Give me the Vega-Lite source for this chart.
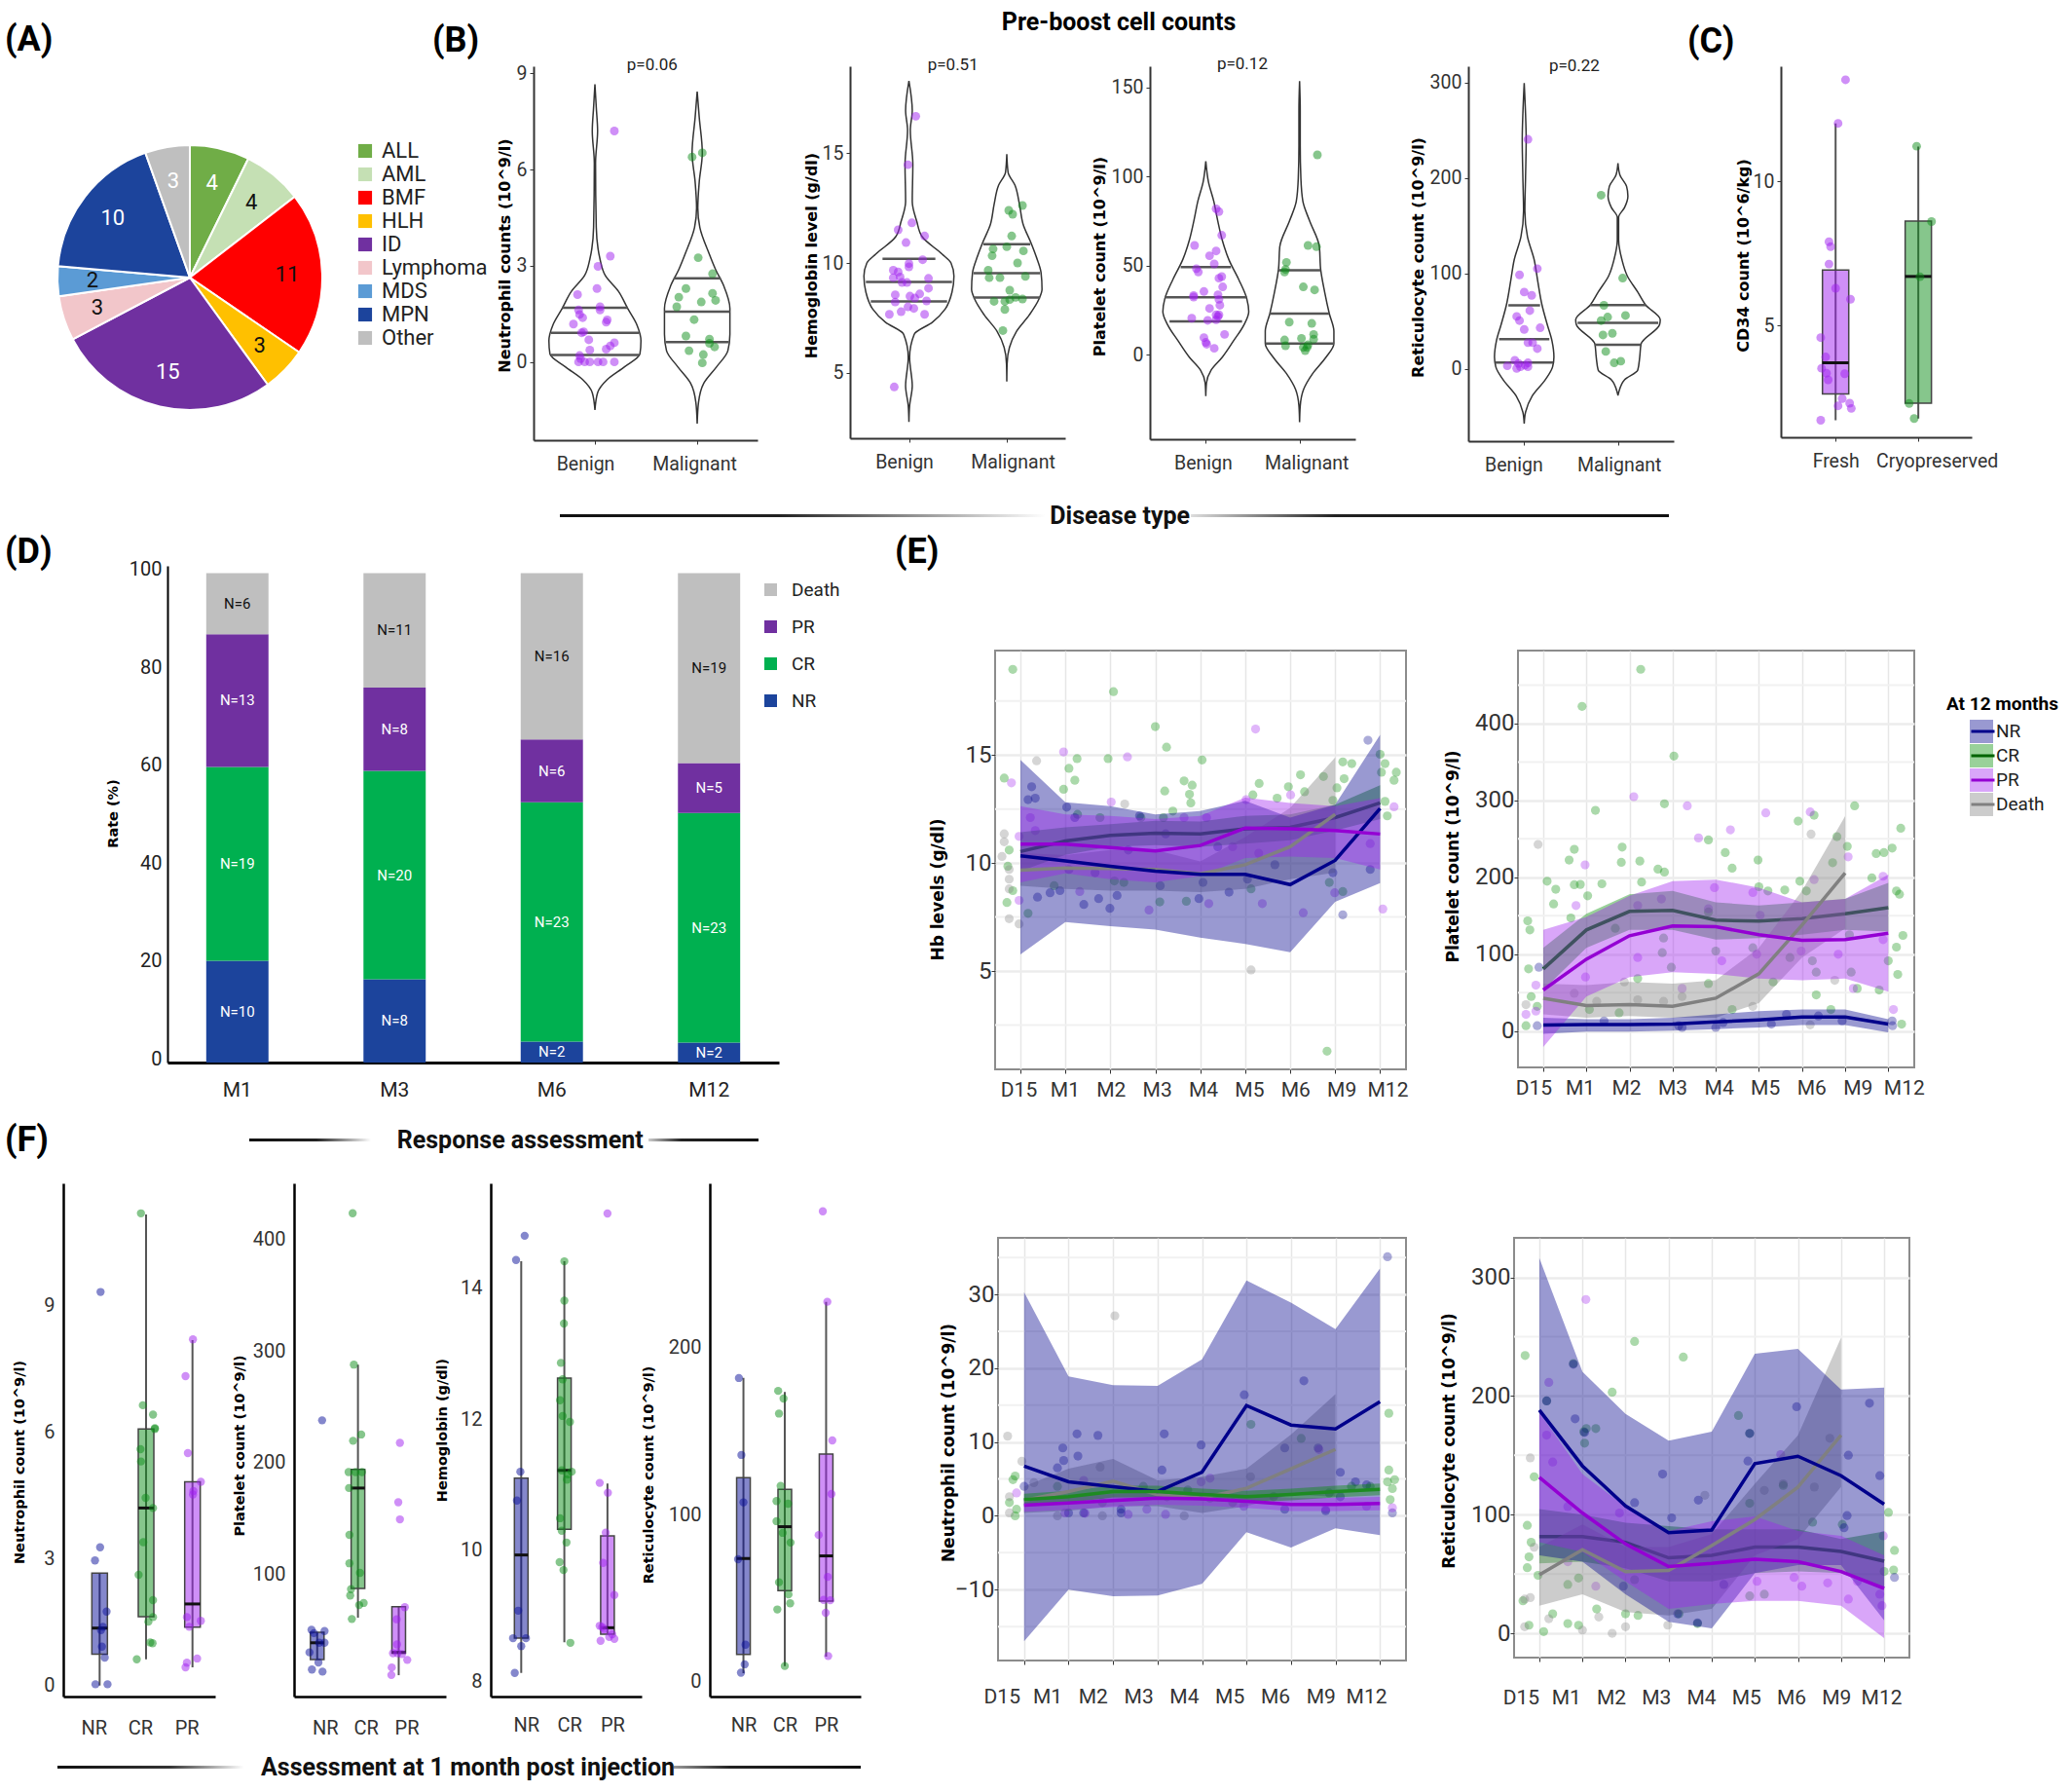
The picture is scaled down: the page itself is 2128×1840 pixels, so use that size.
{
"$schema":"https://vega.github.io/schema/vega-lite/v6.json",
"background":"white","padding":0,
"config":{"view":{"stroke":null},
"title":{"font":"Roboto","fontSize":36,"fontWeight":"bold","anchor":"start","frame":"group","offset":0,"baseline":"alphabetic","color":"#000"},
"axis":{"grid":false,"labelFont":"Roboto","labelFontSize":19.5,"labelColor":"#333","labelPadding":3,"tickSize":4,"tickColor":"#333","domainColor":"#333","domainWidth":2,"titleFont":"DejaVu Sans","titleFontWeight":"bold","titleFontSize":16,"titleColor":"#000","labelOverlap":false,"labelFlush":false}},
"resolve":{"scale":{"color":"independent","fill":"independent","stroke":"independent"}},
"vconcat":[
{"width":2128,"height":46,"data":{"values":[{"label":"Pre-boost cell counts"}]},"mark":{"type":"text","font":"Roboto","fontWeight":"bold","fontSize":25,"color":"#000"},"encoding":{"x":{"datum":0.54,"type":"quantitative","scale":{"domain":[0,1]},"axis":null},"text":{"field":"label"}}},
{"width":1,"height":22,"data":{"values":[]},"mark":"point"},
{"hconcat":[
{"width":390,"height":434,"title":{"text":"(A)","dx":5,"dy":-4},
"data":{"values":[{"d":"ALL","n":4,"i":1},{"d":"AML","n":4,"i":2},{"d":"BMF","n":11,"i":3},{"d":"HLH","n":3,"i":4},{"d":"ID","n":15,"i":5},{"d":"Lymphoma","n":3,"i":6},{"d":"MDS","n":2,"i":7},{"d":"MPN","n":10,"i":8},{"d":"Other","n":3,"i":9}]},
"encoding":{"theta":{"field":"n","type":"quantitative","stack":true},"order":{"field":"i","type":"quantitative"}},
"layer":[
{"mark":{"type":"arc","outerRadius":136,"stroke":"white","strokeWidth":2},"encoding":{"color":{"field":"d","type":"nominal","scale":{"domain":["ALL","AML","BMF","HLH","ID","Lymphoma","MDS","MPN","Other"],"range":["#70AD47","#C5E0B4","#FF0000","#FFC000","#7030A0","#F2C6CA","#5B9BD5","#1C449C","#BFBFBF"]},"legend":{"title":null,"orient":"none","legendX":364,"legendY":76,"symbolType":"square","symbolSize":200,"symbolStrokeWidth":0,"labelFont":"Roboto","labelFontSize":22,"labelColor":"#222","rowPadding":2,"labelOffset":6}}}},
{"mark":{"type":"text","radius":100,"font":"Roboto","fontSize":22},"encoding":{"detail":{"field":"d"},"text":{"field":"n","type":"quantitative"},"color":{"condition":{"test":"indexof(['ALL','ID','MPN','Other'],datum.d)>=0","value":"white"},"value":"#111"}}}
]},
{"width":158,"height":1,"data":{"values":[]},"mark":"point"},
{"width":230,"height":384,"title":{"text":"(B)","dx":-104,"dy":7},
"encoding":{"x":{"field":"x","type":"quantitative","scale":{"domain":[-0.6,1.59]},"axis":{"values":[0,1],"labelExpr":"datum.value==0?'Benign':'Malignant'","title":null,"labelPadding":11,"encoding":{"labels":{"dx":{"value":{"expr":"datum.value==0?-10:-3"}}}}}},
"y":{"field":"y","type":"quantitative","scale":{"domain":[-2.44,9.22]},"axis":{"values":[0,3,6,9],"title":"Neutrophil counts (10^9/l)","titleX":-22,"titleY":194}}},
"layer":[
{"data":{"values":[{"g":"B","y":8.66,"x":0,"x2":0},{"g":"B","y":7.94,"x":-0.013,"x2":0.013},{"g":"B","y":7.2,"x":-0.026,"x2":0.026},{"g":"B","y":6.2,"x":-0.006,"x2":0.006},{"g":"B","y":4.2,"x":-0.013,"x2":0.013},{"g":"B","y":3.2,"x":-0.05,"x2":0.05},{"g":"B","y":2.7,"x":-0.1,"x2":0.1},{"g":"B","y":2.2,"x":-0.23,"x2":0.23},{"g":"B","y":1.67,"x":-0.32,"x2":0.32},{"g":"B","y":1.16,"x":-0.41,"x2":0.41},{"g":"B","y":0.66,"x":-0.45,"x2":0.45},{"g":"B","y":0.25,"x":-0.44,"x2":0.44},{"g":"B","y":-0.15,"x":-0.29,"x2":0.29},{"g":"B","y":-0.55,"x":-0.12,"x2":0.12},{"g":"B","y":-0.96,"x":-0.026,"x2":0.026},{"g":"B","y":-1.5,"x":0,"x2":0},
{"g":"M","y":8.43,"x":1,"x2":1},{"g":"M","y":7.63,"x":0.98,"x2":1.02},{"g":"M","y":6.52,"x":0.95,"x2":1.05},{"g":"M","y":5.61,"x":0.98,"x2":1.02},{"g":"M","y":4.8,"x":0.994,"x2":1.006},{"g":"M","y":4.19,"x":0.974,"x2":1.026},{"g":"M","y":3.38,"x":0.884,"x2":1.116},{"g":"M","y":2.88,"x":0.82,"x2":1.18},{"g":"M","y":2.37,"x":0.74,"x2":1.26},{"g":"M","y":1.67,"x":0.68,"x2":1.32},{"g":"M","y":0.86,"x":0.68,"x2":1.32},{"g":"M","y":0.35,"x":0.7,"x2":1.3},{"g":"M","y":-0.15,"x":0.81,"x2":1.19},{"g":"M","y":-0.66,"x":0.935,"x2":1.065},{"g":"M","y":-1.26,"x":0.987,"x2":1.013},{"g":"M","y":-1.92,"x":1,"x2":1}]},
"mark":{"type":"area","orient":"horizontal","interpolate":"monotone","fill":"transparent","stroke":"#333","strokeWidth":1.5},"encoding":{"x2":{"field":"x2"},"detail":{"field":"g"}}},
{"data":{"values":[{"y":1.69,"x":-0.32,"x2":0.32},{"y":0.91,"x":-0.43,"x2":0.43},{"y":0.22,"x":-0.43,"x2":0.43},{"y":2.61,"x":0.77,"x2":1.23},{"y":1.57,"x":0.68,"x2":1.32},{"y":0.62,"x":0.69,"x2":1.31}]},"mark":{"type":"rule","stroke":"#555","strokeWidth":2.5},"encoding":{"x2":{"field":"x2"}}},
{"data":{"values":[{"x":0.19,"y":7.2,"g":"Benign"},{"x":0.15,"y":3.3,"g":"Benign"},{"x":0.03,"y":2.98,"g":"Benign"},{"x":0.02,"y":2.29,"g":"Benign"},{"x":-0.17,"y":2.1,"g":"Benign"},{"x":0.05,"y":1.72,"g":"Benign"},{"x":-0.16,"y":1.62,"g":"Benign"},{"x":-0.15,"y":1.48,"g":"Benign"},{"x":-0.12,"y":1.38,"g":"Benign"},{"x":-0.21,"y":1.18,"g":"Benign"},{"x":0.12,"y":1.31,"g":"Benign"},{"x":0.11,"y":1.24,"g":"Benign"},{"x":-0.13,"y":0.91,"g":"Benign"},{"x":-0.11,"y":0.94,"g":"Benign"},{"x":-0.06,"y":0.69,"g":"Benign"},{"x":0.19,"y":0.6,"g":"Benign"},{"x":0.15,"y":0.5,"g":"Benign"},{"x":0.11,"y":0.4,"g":"Benign"},{"x":-0.05,"y":0.37,"g":"Benign"},{"x":-0.15,"y":0.2,"g":"Benign"},{"x":-0.16,"y":0,"g":"Benign"},{"x":-0.1,"y":0,"g":"Benign"},{"x":-0.05,"y":0,"g":"Benign"},{"x":0.03,"y":0,"g":"Benign"},{"x":0.08,"y":0,"g":"Benign"},{"x":0.19,"y":0,"g":"Benign"},{"x":0.05,"y":1.62,"g":"Benign"},{"x":-0.14,"y":0.1,"g":"Benign"},
{"x":1.05,"y":6.52,"g":"Malignant"},{"x":0.95,"y":6.39,"g":"Malignant"},{"x":1.01,"y":3.25,"g":"Malignant"},{"x":1.15,"y":2.75,"g":"Malignant"},{"x":0.89,"y":2.29,"g":"Malignant"},{"x":0.82,"y":2.02,"g":"Malignant"},{"x":1.15,"y":2.14,"g":"Malignant"},{"x":1.18,"y":1.92,"g":"Malignant"},{"x":1.04,"y":1.87,"g":"Malignant"},{"x":0.8,"y":1.72,"g":"Malignant"},{"x":0.97,"y":1.32,"g":"Malignant"},{"x":0.89,"y":0.81,"g":"Malignant"},{"x":1.12,"y":0.71,"g":"Malignant"},{"x":1.12,"y":0.58,"g":"Malignant"},{"x":1.17,"y":0.47,"g":"Malignant"},{"x":0.92,"y":0.35,"g":"Malignant"},{"x":1.06,"y":0.23,"g":"Malignant"},{"x":1.05,"y":-0.03,"g":"Malignant"}]},
"mark":{"type":"circle","size":80,"opacity":0.5},"encoding":{"color":{"field":"g","type":"nominal","scale":{"domain":["Benign","Malignant"],"range":["#A020F0","#0D8D19"]},"legend":null}}},
{"data":{"values":[{"x":0.56,"y":9.24,"p":"p=0.06"}]},"mark":{"type":"text","font":"Roboto","fontSize":17,"color":"#222"},"encoding":{"text":{"field":"p"}}}
]},
{"width":95,"height":1,"data":{"values":[]},"mark":"point"},
{"width":221,"height":382,
"encoding":{"x":{"field":"x","type":"quantitative","scale":{"domain":[-0.602,1.597]},"axis":{"values":[0,1],"labelExpr":"datum.value==0?'Benign':'Malignant'","title":null,"labelPadding":11,"encoding":{"labels":{"dx":{"value":{"expr":"datum.value==0?-5:6"}}}}}},
"y":{"field":"y","type":"quantitative","scale":{"domain":[2.01,18.97]},"axis":{"values":[5,10,15],"title":"Hemoglobin level (g/dl)","titleX":-32,"titleY":194}}},
"layer":[
{"data":{"values":[{"g":"B","y":18.3,"x":0,"x2":0},{"g":"B","y":16.95,"x":-0.034,"x2":0.034},{"g":"B","y":16.05,"x":-0.014,"x2":0.014},{"g":"B","y":14.5,"x":-0.04,"x2":0.04},{"g":"B","y":12.8,"x":-0.034,"x2":0.034},{"g":"B","y":11.9,"x":-0.08,"x2":0.08},{"g":"B","y":11.2,"x":-0.135,"x2":0.135},{"g":"B","y":10.4,"x":-0.34,"x2":0.34},{"g":"B","y":10,"x":-0.43,"x2":0.43},{"g":"B","y":9.4,"x":-0.46,"x2":0.46},{"g":"B","y":8.67,"x":-0.44,"x2":0.44},{"g":"B","y":7.9,"x":-0.37,"x2":0.37},{"g":"B","y":7.3,"x":-0.24,"x2":0.24},{"g":"B","y":6.75,"x":-0.054,"x2":0.054},{"g":"B","y":5.7,"x":-0.007,"x2":0.007},{"g":"B","y":4.4,"x":-0.034,"x2":0.034},{"g":"B","y":3.5,"x":-0.007,"x2":0.007},{"g":"B","y":2.75,"x":0,"x2":0},
{"g":"M","y":14.96,"x":1,"x2":1},{"g":"M","y":14.14,"x":0.987,"x2":1.013},{"g":"M","y":13.55,"x":0.917,"x2":1.083},{"g":"M","y":12.66,"x":0.87,"x2":1.13},{"g":"M","y":11.78,"x":0.834,"x2":1.166},{"g":"M","y":10.89,"x":0.75,"x2":1.25},{"g":"M","y":10.3,"x":0.7,"x2":1.3},{"g":"M","y":9.56,"x":0.65,"x2":1.35},{"g":"M","y":8.8,"x":0.64,"x2":1.36},{"g":"M","y":8.37,"x":0.67,"x2":1.33},{"g":"M","y":7.63,"x":0.77,"x2":1.23},{"g":"M","y":6.89,"x":0.9,"x2":1.1},{"g":"M","y":6.15,"x":0.973,"x2":1.027},{"g":"M","y":5.4,"x":0.997,"x2":1.003},{"g":"M","y":4.6,"x":1,"x2":1}]},
"mark":{"type":"area","orient":"horizontal","interpolate":"monotone","fill":"transparent","stroke":"#333","strokeWidth":1.5},"encoding":{"x2":{"field":"x2"},"detail":{"field":"g"}}},
{"data":{"values":[{"y":10.19,"x":-0.27,"x2":0.27},{"y":9.14,"x":-0.44,"x2":0.44},{"y":8.25,"x":-0.39,"x2":0.39},{"y":10.86,"x":0.76,"x2":1.24},{"y":9.54,"x":0.66,"x2":1.34},{"y":8.42,"x":0.66,"x2":1.34}]},"mark":{"type":"rule","stroke":"#555","strokeWidth":2.5},"encoding":{"x2":{"field":"x2"}}},
{"data":{"values":[{"x":0.07,"y":16.69,"g":"Benign"},{"x":-0.01,"y":14.48,"g":"Benign"},{"x":0.03,"y":11.83,"g":"Benign"},{"x":-0.11,"y":11.51,"g":"Benign"},{"x":0.16,"y":11.23,"g":"Benign"},{"x":-0.03,"y":10.93,"g":"Benign"},{"x":0.14,"y":10.15,"g":"Benign"},{"x":0,"y":9.97,"g":"Benign"},{"x":0,"y":9.82,"g":"Benign"},{"x":-0.16,"y":9.67,"g":"Benign"},{"x":-0.11,"y":9.59,"g":"Benign"},{"x":-0.16,"y":9.33,"g":"Benign"},{"x":-0.09,"y":9.36,"g":"Benign"},{"x":0.2,"y":9.3,"g":"Benign"},{"x":-0.07,"y":9.11,"g":"Benign"},{"x":-0.02,"y":9.11,"g":"Benign"},{"x":0.2,"y":8.85,"g":"Benign"},{"x":-0.14,"y":8.55,"g":"Benign"},{"x":0.11,"y":8.59,"g":"Benign"},{"x":0.01,"y":8.49,"g":"Benign"},{"x":0.06,"y":8.4,"g":"Benign"},{"x":-0.14,"y":8.22,"g":"Benign"},{"x":0.18,"y":8.27,"g":"Benign"},{"x":-0.01,"y":8,"g":"Benign"},{"x":0.05,"y":7.93,"g":"Benign"},{"x":-0.08,"y":7.78,"g":"Benign"},{"x":-0.2,"y":7.66,"g":"Benign"},{"x":0.16,"y":7.66,"g":"Benign"},{"x":-0.15,"y":4.35,"g":"Benign"},
{"x":1.16,"y":12.62,"g":"Malignant"},{"x":1.02,"y":12.4,"g":"Malignant"},{"x":1.06,"y":12.22,"g":"Malignant"},{"x":1.05,"y":11.23,"g":"Malignant"},{"x":0.86,"y":10.64,"g":"Malignant"},{"x":1,"y":10.74,"g":"Malignant"},{"x":1.17,"y":10.55,"g":"Malignant"},{"x":0.85,"y":10.33,"g":"Malignant"},{"x":1.11,"y":10,"g":"Malignant"},{"x":0.81,"y":9.67,"g":"Malignant"},{"x":1.19,"y":9.39,"g":"Malignant"},{"x":0.82,"y":9.33,"g":"Malignant"},{"x":0.93,"y":9.33,"g":"Malignant"},{"x":1.03,"y":8.76,"g":"Malignant"},{"x":0.87,"y":8.25,"g":"Malignant"},{"x":0.98,"y":8.25,"g":"Malignant"},{"x":1.03,"y":8.33,"g":"Malignant"},{"x":1.09,"y":8.43,"g":"Malignant"},{"x":1.16,"y":8.36,"g":"Malignant"},{"x":0.98,"y":7.88,"g":"Malignant"},{"x":0.96,"y":6.92,"g":"Malignant"}]},
"mark":{"type":"circle","size":80,"opacity":0.5},"encoding":{"color":{"field":"g","type":"nominal","scale":{"domain":["Benign","Malignant"],"range":["#A020F0","#0D8D19"]},"legend":null}}},
{"data":{"values":[{"x":0.45,"y":19.02,"p":"p=0.51"}]},"mark":{"type":"text","font":"Roboto","fontSize":17,"color":"#222"},"encoding":{"text":{"field":"p"}}}
]},
{"width":87,"height":1,"data":{"values":[]},"mark":"point"},
{"width":211,"height":383,
"encoding":{"x":{"field":"x","type":"quantitative","scale":{"domain":[-0.596,1.595]},"axis":{"values":[0,1],"labelExpr":"datum.value==0?'Benign':'Malignant'","title":null,"labelPadding":11,"encoding":{"labels":{"dx":{"value":{"expr":"datum.value==0?-3:7"}}}}}},
"y":{"field":"y","type":"quantitative","scale":{"domain":[-47.6,162]},"axis":{"values":[0,50,100,150],"title":"Platelet count (10^9/l)","titleX":-44,"titleY":195}}},
"layer":[
{"data":{"values":[{"g":"B","y":108.6,"x":0,"x2":0},{"g":"B","y":97.1,"x":-0.028,"x2":0.028},{"g":"B","y":86.1,"x":-0.085,"x2":0.085},{"g":"B","y":75.2,"x":-0.127,"x2":0.127},{"g":"B","y":64.2,"x":-0.176,"x2":0.176},{"g":"B","y":53.3,"x":-0.246,"x2":0.246},{"g":"B","y":42.3,"x":-0.35,"x2":0.35},{"g":"B","y":31.4,"x":-0.437,"x2":0.437},{"g":"B","y":24.1,"x":-0.458,"x2":0.458},{"g":"B","y":16.8,"x":-0.408,"x2":0.408},{"g":"B","y":7.7,"x":-0.296,"x2":0.296},{"g":"B","y":-1.5,"x":-0.176,"x2":0.176},{"g":"B","y":-8.8,"x":-0.056,"x2":0.056},{"g":"B","y":-16,"x":-0.007,"x2":0.007},{"g":"B","y":-23.4,"x":0,"x2":0},
{"g":"M","y":153.6,"x":1,"x2":1},{"g":"M","y":137.2,"x":0.993,"x2":1.007},{"g":"M","y":117.2,"x":0.993,"x2":1.007},{"g":"M","y":98.9,"x":0.986,"x2":1.014},{"g":"M","y":86.1,"x":0.965,"x2":1.035},{"g":"M","y":75.2,"x":0.894,"x2":1.106},{"g":"M","y":60.6,"x":0.789,"x2":1.211},{"g":"M","y":47.8,"x":0.775,"x2":1.225},{"g":"M","y":35,"x":0.732,"x2":1.268},{"g":"M","y":23,"x":0.683,"x2":1.317},{"g":"M","y":13.1,"x":0.634,"x2":1.366},{"g":"M","y":6.2,"x":0.634,"x2":1.366},{"g":"M","y":-1.5,"x":0.718,"x2":1.282},{"g":"M","y":-10.6,"x":0.859,"x2":1.141},{"g":"M","y":-19.7,"x":0.958,"x2":1.042},{"g":"M","y":-28.8,"x":0.993,"x2":1.007},{"g":"M","y":-38,"x":1,"x2":1}]},
"mark":{"type":"area","orient":"horizontal","interpolate":"monotone","fill":"transparent","stroke":"#333","strokeWidth":1.5},"encoding":{"x2":{"field":"x2"},"detail":{"field":"g"}}},
{"data":{"values":[{"y":49.1,"x":-0.268,"x2":0.268},{"y":32.1,"x":-0.437,"x2":0.437},{"y":18.6,"x":-0.387,"x2":0.387},{"y":47.4,"x":0.775,"x2":1.225},{"y":23,"x":0.683,"x2":1.317},{"y":6.2,"x":0.634,"x2":1.366}]},"mark":{"type":"rule","stroke":"#555","strokeWidth":2.5},"encoding":{"x2":{"field":"x2"}}},
{"data":{"values":[{"x":0.11,"y":81.9,"g":"Benign"},{"x":0.14,"y":80.3,"g":"Benign"},{"x":0.17,"y":67,"g":"Benign"},{"x":-0.12,"y":61.3,"g":"Benign"},{"x":0.11,"y":58.2,"g":"Benign"},{"x":0.04,"y":55.5,"g":"Benign"},{"x":0.09,"y":50.9,"g":"Benign"},{"x":-0.1,"y":48.2,"g":"Benign"},{"x":-0.08,"y":46.4,"g":"Benign"},{"x":0.17,"y":43.8,"g":"Benign"},{"x":0.14,"y":42.9,"g":"Benign"},{"x":0.18,"y":38,"g":"Benign"},{"x":-0.02,"y":35.4,"g":"Benign"},{"x":0.13,"y":33.6,"g":"Benign"},{"x":-0.13,"y":33.2,"g":"Benign"},{"x":-0.13,"y":32.3,"g":"Benign"},{"x":0.14,"y":31,"g":"Benign"},{"x":0.15,"y":27.7,"g":"Benign"},{"x":0.04,"y":25.9,"g":"Benign"},{"x":0.11,"y":22.3,"g":"Benign"},{"x":0.14,"y":22.3,"g":"Benign"},{"x":0.13,"y":21.4,"g":"Benign"},{"x":-0.15,"y":20.4,"g":"Benign"},{"x":0.02,"y":19.2,"g":"Benign"},{"x":0.11,"y":19.5,"g":"Benign"},{"x":0.2,"y":11.3,"g":"Benign"},{"x":-0.02,"y":9.5,"g":"Benign"},{"x":0,"y":6.8,"g":"Benign"},{"x":0.01,"y":5.8,"g":"Benign"},{"x":0.09,"y":3.5,"g":"Benign"},
{"x":1.19,"y":112.2,"g":"Malignant"},{"x":1.09,"y":61.3,"g":"Malignant"},{"x":1.18,"y":60.6,"g":"Malignant"},{"x":0.86,"y":51.8,"g":"Malignant"},{"x":0.85,"y":47.8,"g":"Malignant"},{"x":0.84,"y":46.4,"g":"Malignant"},{"x":1.04,"y":38,"g":"Malignant"},{"x":1.16,"y":36.3,"g":"Malignant"},{"x":0.89,"y":18.2,"g":"Malignant"},{"x":1.13,"y":17.5,"g":"Malignant"},{"x":0.84,"y":8.2,"g":"Malignant"},{"x":0.85,"y":4.9,"g":"Malignant"},{"x":1.02,"y":9.1,"g":"Malignant"},{"x":1.15,"y":11.3,"g":"Malignant"},{"x":1.15,"y":8.6,"g":"Malignant"},{"x":1.04,"y":4,"g":"Malignant"},{"x":1.08,"y":4,"g":"Malignant"},{"x":1.06,"y":2.2,"g":"Malignant"},{"x":1.09,"y":5.5,"g":"Malignant"}]},
"mark":{"type":"circle","size":80,"opacity":0.5},"encoding":{"color":{"field":"g","type":"nominal","scale":{"domain":["Benign","Malignant"],"range":["#A020F0","#0D8D19"]},"legend":null}}},
{"data":{"values":[{"x":0.39,"y":163,"p":"p=0.12"}]},"mark":{"type":"text","font":"Roboto","fontSize":17,"color":"#222"},"encoding":{"text":{"field":"p"}}}
]},
{"width":116,"height":1,"data":{"values":[]},"mark":"point"},
{"width":211,"height":385,
"encoding":{"x":{"field":"x","type":"quantitative","scale":{"domain":[-0.596,1.595]},"axis":{"values":[0,1],"labelExpr":"datum.value==0?'Benign':'Malignant'","title":null,"labelPadding":11,"encoding":{"labels":{"dx":{"value":{"expr":"datum.value==0?-11:1"}}}}}},
"y":{"field":"y","type":"quantitative","scale":{"domain":[-75.5,317]},"axis":{"values":[0,100,200,300],"title":"Reticulocyte count (10^9/l)","titleX":-44,"titleY":196}}},
"layer":[
{"data":{"values":[{"g":"B","y":299.3,"x":0,"x2":0},{"g":"B","y":267.7,"x":-0.014,"x2":0.014},{"g":"B","y":240.5,"x":-0.021,"x2":0.021},{"g":"B","y":199.7,"x":-0.014,"x2":0.014},{"g":"B","y":165.6,"x":-0.007,"x2":0.007},{"g":"B","y":138.4,"x":-0.035,"x2":0.035},{"g":"B","y":114.6,"x":-0.106,"x2":0.106},{"g":"B","y":94.2,"x":-0.141,"x2":0.141},{"g":"B","y":67,"x":-0.19,"x2":0.19},{"g":"B","y":46.6,"x":-0.246,"x2":0.246},{"g":"B","y":29.6,"x":-0.296,"x2":0.296},{"g":"B","y":12.6,"x":-0.317,"x2":0.317},{"g":"B","y":2.4,"x":-0.303,"x2":0.303},{"g":"B","y":-11.2,"x":-0.225,"x2":0.225},{"g":"B","y":-28.2,"x":-0.085,"x2":0.085},{"g":"B","y":-45.2,"x":-0.014,"x2":0.014},{"g":"B","y":-57.1,"x":0,"x2":0},
{"g":"M","y":215.6,"x":1,"x2":1},{"g":"M","y":203.1,"x":0.979,"x2":1.021},{"g":"M","y":191.2,"x":0.908,"x2":1.092},{"g":"M","y":181,"x":0.894,"x2":1.106},{"g":"M","y":169,"x":0.93,"x2":1.07},{"g":"M","y":158.8,"x":0.993,"x2":1.007},{"g":"M","y":135,"x":0.993,"x2":1.007},{"g":"M","y":114.6,"x":0.958,"x2":1.042},{"g":"M","y":97.6,"x":0.901,"x2":1.099},{"g":"M","y":80.6,"x":0.789,"x2":1.211},{"g":"M","y":67,"x":0.704,"x2":1.296},{"g":"M","y":51.7,"x":0.549,"x2":1.451},{"g":"M","y":46.6,"x":0.556,"x2":1.444},{"g":"M","y":26.2,"x":0.754,"x2":1.246},{"g":"M","y":12.6,"x":0.768,"x2":1.232},{"g":"M","y":-1,"x":0.789,"x2":1.211},{"g":"M","y":-11.2,"x":0.93,"x2":1.07},{"g":"M","y":-24.8,"x":0.993,"x2":1.007},{"g":"M","y":-27.6,"x":1,"x2":1}]},
"mark":{"type":"area","orient":"horizontal","interpolate":"monotone","fill":"transparent","stroke":"#333","strokeWidth":1.5},"encoding":{"x2":{"field":"x2"},"detail":{"field":"g"}}},
{"data":{"values":[{"y":66.7,"x":-0.169,"x2":0.169},{"y":31.3,"x":-0.268,"x2":0.268},{"y":6.8,"x":-0.31,"x2":0.31},{"y":67,"x":0.704,"x2":1.296},{"y":48.3,"x":0.57,"x2":1.43},{"y":25.5,"x":0.754,"x2":1.246}]},"mark":{"type":"rule","stroke":"#555","strokeWidth":2.5},"encoding":{"x2":{"field":"x2"}}},
{"data":{"values":[{"x":0.04,"y":240.5,"g":"Benign"},{"x":0.14,"y":105.1,"g":"Benign"},{"x":-0.05,"y":98.6,"g":"Benign"},{"x":0,"y":80.6,"g":"Benign"},{"x":0.08,"y":77.2,"g":"Benign"},{"x":0.06,"y":61.2,"g":"Benign"},{"x":-0.08,"y":55.1,"g":"Benign"},{"x":-0.05,"y":50.7,"g":"Benign"},{"x":0.17,"y":43.2,"g":"Benign"},{"x":0,"y":41.5,"g":"Benign"},{"x":0.04,"y":27.6,"g":"Benign"},{"x":0.09,"y":27.6,"g":"Benign"},{"x":0.14,"y":21.4,"g":"Benign"},{"x":-0.18,"y":3.4,"g":"Benign"},{"x":-0.1,"y":9.2,"g":"Benign"},{"x":-0.06,"y":5.8,"g":"Benign"},{"x":0.01,"y":4.1,"g":"Benign"},{"x":0.04,"y":6.5,"g":"Benign"},{"x":-0.08,"y":0.7,"g":"Benign"},{"x":0.04,"y":2.4,"g":"Benign"},{"x":-0.04,"y":2.4,"g":"Benign"},
{"x":0.82,"y":182,"g":"Malignant"},{"x":1.05,"y":95.2,"g":"Malignant"},{"x":0.85,"y":66.7,"g":"Malignant"},{"x":1.08,"y":56.1,"g":"Malignant"},{"x":0.89,"y":54.4,"g":"Malignant"},{"x":0.82,"y":50.7,"g":"Malignant"},{"x":0.94,"y":37.4,"g":"Malignant"},{"x":0.84,"y":35.7,"g":"Malignant"},{"x":0.87,"y":18.4,"g":"Malignant"},{"x":0.96,"y":6.5,"g":"Malignant"},{"x":1.03,"y":8.2,"g":"Malignant"}]},
"mark":{"type":"circle","size":80,"opacity":0.5},"encoding":{"color":{"field":"g","type":"nominal","scale":{"domain":["Benign","Malignant"],"range":["#A020F0","#0D8D19"]},"legend":null}}},
{"data":{"values":[{"x":0.535,"y":317,"p":"p=0.22"}]},"mark":{"type":"text","font":"Roboto","fontSize":17,"color":"#222"},"encoding":{"text":{"field":"p"}}}
]},
{"width":110,"height":1,"data":{"values":[]},"mark":"point"},
{"width":196,"height":381,"title":{"text":"(C)","dx":-96,"dy":-2},
"data":{"values":[{"g":"Fresh","x":0,"low":1.72,"q1":2.63,"med":3.71,"q3":6.92,"high":12},{"g":"Cryopreserved","x":1,"low":1.78,"q1":2.31,"med":6.7,"q3":8.62,"high":11.2}]},
"encoding":{"x":{"field":"x","type":"quantitative","scale":{"domain":[-0.603,1.587]},"axis":{"values":[0,1],"labelExpr":"datum.value==0?'Fresh':'Cryopreserved'","title":null,"labelPadding":11,"encoding":{"labels":{"dx":{"value":{"expr":"datum.value==1?19:0"}}}}}},
"y":{"field":"y","type":"quantitative","scale":{"domain":[1.13,13.98]},"axis":{"values":[5,10],"title":"CD34 count (10^6/kg)","titleX":-31,"titleY":194}}},
"layer":[
{"mark":{"type":"rule","stroke":"#555","strokeWidth":2},"encoding":{"y":{"field":"low"},"y2":{"field":"high"}}},
{"mark":{"type":"bar","size":27,"fillOpacity":0.5,"stroke":"#444","strokeWidth":1.5},"encoding":{"y":{"field":"q1"},"y2":{"field":"q3"},"color":{"field":"g","type":"nominal","scale":{"domain":["Fresh","Cryopreserved"],"range":["#A020F0","#0D8D19"]},"legend":null}}},
{"mark":{"type":"tick","orient":"horizontal","size":27,"thickness":3,"color":"#111","opacity":1},"encoding":{"y":{"field":"med"}}},
{"data":{"values":[{"x":0.12,"y":13.51,"g":"Fresh"},{"x":0.03,"y":12,"g":"Fresh"},{"x":-0.08,"y":7.9,"g":"Fresh"},{"x":-0.06,"y":7.73,"g":"Fresh"},{"x":-0.08,"y":7.13,"g":"Fresh"},{"x":0,"y":6.29,"g":"Fresh"},{"x":0.18,"y":5.91,"g":"Fresh"},{"x":-0.18,"y":4.58,"g":"Fresh"},{"x":-0.12,"y":3.91,"g":"Fresh"},{"x":-0.17,"y":3.52,"g":"Fresh"},{"x":-0.11,"y":3.35,"g":"Fresh"},{"x":0.11,"y":3.33,"g":"Fresh"},{"x":-0.09,"y":3.12,"g":"Fresh"},{"x":0.08,"y":2.47,"g":"Fresh"},{"x":0.03,"y":2.22,"g":"Fresh"},{"x":0.17,"y":2.31,"g":"Fresh"},{"x":0.19,"y":2.13,"g":"Fresh"},{"x":-0.18,"y":1.72,"g":"Fresh"},{"x":0.98,"y":11.21,"g":"Cryopreserved"},{"x":1.16,"y":8.6,"g":"Cryopreserved"},{"x":1.02,"y":6.69,"g":"Cryopreserved"},{"x":0.89,"y":2.3,"g":"Cryopreserved"},{"x":0.95,"y":1.78,"g":"Cryopreserved"}]},
"mark":{"type":"circle","size":80,"opacity":0.5},"encoding":{"color":{"field":"g","type":"nominal","scale":{"domain":["Fresh","Cryopreserved"],"range":["#A020F0","#0D8D19"]},"legend":null}}}
]}
],"spacing":0,"bounds":"flush","resolve":{"scale":{"color":"independent","fill":"independent","stroke":"independent"}}},
{"width":1,"height":460,"data":{"values":[]},"mark":"point"},
{"hconcat":[
{"width":575,"height":1,"data":{"values":[]},"mark":"point"},
{"width":1139,"height":3,"layer":[
{"data":{"values":[{"part":"left"}]},"mark":{"type":"rect","fill":{"x1":0,"y1":0,"x2":1,"y2":0,"gradient":"linear","stops":[{"offset":0,"color":"#111"},{"offset":0.45,"color":"#222"},{"offset":1,"color":"#fff"}]}},"encoding":{"x":{"datum":0,"type":"quantitative","scale":{"domain":[0,1]},"axis":null},"x2":{"datum":0.438}}},
{"data":{"values":[{"part":"right"}]},"mark":{"type":"rect","fill":{"x1":0,"y1":0,"x2":1,"y2":0,"gradient":"linear","stops":[{"offset":0,"color":"#ddd"},{"offset":0.3,"color":"#222"},{"offset":1,"color":"#111"}]}},"encoding":{"x":{"datum":0.569,"type":"quantitative","scale":{"domain":[0,1]},"axis":null},"x2":{"datum":1}}},
{"data":{"values":[{"label":"Disease type"}]},"mark":{"type":"text","font":"Roboto","fontWeight":"bold","fontSize":25,"color":"#111"},"encoding":{"x":{"datum":0.505,"type":"quantitative","scale":{"domain":[0,1]},"axis":null},"text":{"field":"label"}}}
]}
],"spacing":0,"bounds":"flush","resolve":{"scale":{"color":"independent","fill":"independent","stroke":"independent"}}},
{"width":1,"height":53,"data":{"values":[]},"mark":"point"},
{"hconcat":[
{"vconcat":[
{"hconcat":[
{"width":172,"height":1,"data":{"values":[]},"mark":"point"},
{"width":628,"height":510,"title":{"text":"(D)","dx":-167,"dy":15},
"data":{"values":[{"month":"M1","status":"NR","i":1,"rate":20.8,"label":"N=10"},{"month":"M1","status":"CR","i":2,"rate":39.6,"label":"N=19"},{"month":"M1","status":"PR","i":3,"rate":27.1,"label":"N=13"},{"month":"M1","status":"Death","i":4,"rate":12.5,"label":"N=6"},{"month":"M3","status":"NR","i":1,"rate":17,"label":"N=8"},{"month":"M3","status":"CR","i":2,"rate":42.6,"label":"N=20"},{"month":"M3","status":"PR","i":3,"rate":17,"label":"N=8"},{"month":"M3","status":"Death","i":4,"rate":23.4,"label":"N=11"},{"month":"M6","status":"NR","i":1,"rate":4.3,"label":"N=2"},{"month":"M6","status":"CR","i":2,"rate":48.9,"label":"N=23"},{"month":"M6","status":"PR","i":3,"rate":12.8,"label":"N=6"},{"month":"M6","status":"Death","i":4,"rate":34,"label":"N=16"},{"month":"M12","status":"NR","i":1,"rate":4.1,"label":"N=2"},{"month":"M12","status":"CR","i":2,"rate":46.9,"label":"N=23"},{"month":"M12","status":"PR","i":3,"rate":10.2,"label":"N=5"},{"month":"M12","status":"Death","i":4,"rate":38.8,"label":"N=19"}]},
"transform":[{"stack":"rate","groupby":["month"],"sort":[{"field":"i","order":"ascending"}],"as":["y0","y1"]},{"calculate":"(datum.y0+datum.y1)/2","as":"mid"}],
"encoding":{"x":{"field":"month","type":"nominal","sort":["M1","M3","M6","M12"],"scale":{"paddingInner":0.604,"paddingOuter":0.2465},"axis":{"title":null,"labelAngle":0,"ticks":false,"labelFontSize":21,"labelPadding":17,"domainWidth":3,"domainColor":"#000","labelColor":"#222"}},
"y":{"field":"y0","type":"quantitative","scale":{"domain":[0,101.5],"nice":false},"axis":{"values":[0,20,40,60,80,100],"ticks":false,"title":"Rate (%)","titleFontSize":14.5,"titleX":-49,"titleY":254,"labelFontSize":20,"labelOffset":-4,"labelPadding":6,"domainColor":"#000","labelColor":"#222"}}},
"layer":[
{"mark":{"type":"bar"},"encoding":{"y2":{"field":"y1"},
"color":{"field":"status","type":"nominal","scale":{"domain":["Death","PR","CR","NR"],"range":["#BFBFBF","#7030A0","#00B050","#1C449C"]},"legend":{"title":null,"orient":"none","legendX":610,"legendY":15,"symbolType":"square","symbolSize":170,"symbolStrokeWidth":0,"labelFont":"Roboto","labelFontSize":19,"labelColor":"#222","rowPadding":18,"labelOffset":12,"encoding":{"symbols":{"fill":{"value":{"expr":"datum.value==='Death'?'#7F8689':datum.value==='PR'?'#7030A0':datum.value==='CR'?'#00B050':'#1C449C'"}}}}}}}},
{"mark":{"type":"text","font":"Roboto","fontSize":15},"encoding":{"y":{"field":"mid"},"text":{"field":"label"},"color":{"condition":{"test":"datum.status==='Death'","value":"#111"},"value":"white"}}}
]}
],"spacing":0,"bounds":"flush","resolve":{"scale":{"color":"independent","fill":"independent","stroke":"independent"}}},
{"width":1,"height":588,"data":{"values":[]},"mark":"point"},
{"hconcat":[
{"width":256,"height":1,"data":{"values":[]},"mark":"point"},
{"width":523,"height":3,"layer":[
{"data":{"values":[{"part":"left"}]},"mark":{"type":"rect","fill":{"x1":0,"y1":0,"x2":1,"y2":0,"gradient":"linear","stops":[{"offset":0,"color":"#111"},{"offset":0.55,"color":"#222"},{"offset":1,"color":"#fff"}]}},"encoding":{"x":{"datum":0,"type":"quantitative","scale":{"domain":[0,1]},"axis":null},"x2":{"datum":0.239}}},
{"data":{"values":[{"part":"right"}]},"mark":{"type":"rect","fill":{"x1":0,"y1":0,"x2":1,"y2":0,"gradient":"linear","stops":[{"offset":0,"color":"#ccc"},{"offset":0.3,"color":"#222"},{"offset":1,"color":"#111"}]}},"encoding":{"x":{"datum":0.784,"type":"quantitative","scale":{"domain":[0,1]},"axis":null},"x2":{"datum":1}}},
{"data":{"values":[{"label":"Response assessment"}]},"mark":{"type":"text","font":"Roboto","fontWeight":"bold","fontSize":25,"color":"#111"},"encoding":{"x":{"datum":0.532,"type":"quantitative","scale":{"domain":[0,1]},"axis":null},"text":{"field":"label"}}}
]}
],"spacing":0,"bounds":"flush","resolve":{"scale":{"color":"independent","fill":"independent","stroke":"independent"}}},
{"width":1,"height":46,"data":{"values":[]},"mark":"point"},
{"hconcat":[
{"width":65,"height":1,"data":{"values":[]},"mark":"point"},
{"width":156,"height":527,"title":{"text":"(F)","dx":-60,"dy":-21},
"data":{"values":[{"g":"NR","x":0,"low":0,"q1":0.74,"med":1.36,"q3":2.66,"high":2.66},{"g":"CR","x":1,"low":0.62,"q1":1.63,"med":4.2,"q3":6.07,"high":11.14},{"g":"PR","x":2,"low":0.43,"q1":1.38,"med":1.93,"q3":4.82,"high":8.17}]},
"encoding":{"x":{"field":"x","type":"quantitative","scale":{"domain":[-0.678,2.384]},"axis":{"values":[0,1,2],"labelExpr":"['NR','CR','PR'][datum.value]","title":null,"ticks":false,"labelFontSize":20,"labelPadding":22,"labelOffset":-6,"domainColor":"#000","domainWidth":2.5}},
"y":{"field":"y","type":"quantitative","scale":{"domain":[-0.26,11.88]},"axis":{"values":[0,3,6,9],"title":"Neutrophil count (10^9/l)","titleFontSize":14.5,"titleX":-38,"titleY":286,"ticks":false,"labelFontSize":20,"labelPadding":9,"domainColor":"#000","domainWidth":2.5}}},
"layer":[
{"mark":{"type":"rule","stroke":"#555","strokeWidth":2},"encoding":{"y":{"field":"low"},"y2":{"field":"high"}}},
{"mark":{"type":"bar","size":16,"fillOpacity":0.5,"stroke":"#444","strokeWidth":1.5},"encoding":{"y":{"field":"q1"},"y2":{"field":"q3"},"color":{"field":"g","type":"nominal","scale":{"domain":["NR","CR","PR"],"range":["#0A0F9A","#0D8D19","#A020F0"]},"legend":null}}},
{"mark":{"type":"tick","orient":"horizontal","size":16,"thickness":3,"color":"#111","opacity":1},"encoding":{"y":{"field":"med"}}},
{"data":{"values":[{"x":0.02,"y":9.31,"g":"NR"},{"x":0.01,"y":3.27,"g":"NR"},{"x":-0.1,"y":2.96,"g":"NR"},{"x":0.15,"y":1.75,"g":"NR"},{"x":0.07,"y":1.39,"g":"NR"},{"x":0.03,"y":1.31,"g":"NR"},{"x":0.05,"y":0.92,"g":"NR"},{"x":0.11,"y":0.66,"g":"NR"},{"x":-0.09,"y":0.03,"g":"NR"},{"x":0.17,"y":0.03,"g":"NR"},
{"x":0.89,"y":11.17,"g":"CR"},{"x":0.93,"y":6.63,"g":"CR"},{"x":1.15,"y":6.41,"g":"CR"},{"x":1.19,"y":6.09,"g":"CR"},{"x":1.19,"y":6.07,"g":"CR"},{"x":0.88,"y":5.59,"g":"CR"},{"x":0.89,"y":5.3,"g":"CR"},{"x":0.99,"y":4.44,"g":"CR"},{"x":1.15,"y":4.2,"g":"CR"},{"x":0.94,"y":3.39,"g":"CR"},{"x":0.84,"y":2.62,"g":"CR"},{"x":1.15,"y":2.02,"g":"CR"},{"x":1.15,"y":1.62,"g":"CR"},{"x":1.05,"y":1.51,"g":"CR"},{"x":1.09,"y":1.02,"g":"CR"},{"x":1.14,"y":1,"g":"CR"},{"x":0.8,"y":0.62,"g":"CR"},
{"x":2.01,"y":8.19,"g":"PR"},{"x":1.85,"y":7.32,"g":"PR"},{"x":1.9,"y":5.5,"g":"PR"},{"x":2.18,"y":4.82,"g":"PR"},{"x":2.02,"y":4.6,"g":"PR"},{"x":2.01,"y":4.52,"g":"PR"},{"x":1.88,"y":1.62,"g":"PR"},{"x":2.18,"y":1.53,"g":"PR"},{"x":1.93,"y":1.39,"g":"PR"},{"x":2.1,"y":0.64,"g":"PR"},{"x":1.88,"y":0.54,"g":"PR"},{"x":1.85,"y":0.43,"g":"PR"}]},
"mark":{"type":"circle","size":70,"opacity":0.5},"encoding":{"color":{"field":"g","type":"nominal","scale":{"domain":["NR","CR","PR"],"range":["#0A0F9A","#0D8D19","#A020F0"]},"legend":null}}}
]},
{"width":81,"height":1,"data":{"values":[]},"mark":"point"},
{"width":156,"height":527,
"data":{"values":[{"g":"NR","x":0,"low":24,"q1":24,"med":39,"q3":48.4,"high":48.4},{"g":"CR","x":1,"low":61.5,"q1":87.7,"med":177.4,"q3":194,"high":287.8},{"g":"PR","x":2,"low":10,"q1":29.7,"med":30.4,"q3":71.2,"high":71.2}]},
"encoding":{"x":{"field":"x","type":"quantitative","scale":{"domain":[-0.449,3.04]},"axis":{"values":[0,1,2],"labelExpr":"['NR','CR','PR'][datum.value]","title":null,"ticks":false,"labelFontSize":20,"labelPadding":22,"labelOffset":8,"domainColor":"#000","domainWidth":2.5}},
"y":{"field":"y","type":"quantitative","scale":{"domain":[-9.1,450]},"axis":{"values":[100,200,300,400],"title":"Platelet count (10^9/l)","titleFontSize":14.5,"titleX":-49,"titleY":269,"ticks":false,"labelFontSize":20,"labelPadding":9,"domainColor":"#000","domainWidth":2.5}}},
"layer":[
{"mark":{"type":"rule","stroke":"#555","strokeWidth":2},"encoding":{"y":{"field":"low"},"y2":{"field":"high"}}},
{"mark":{"type":"bar","size":14,"fillOpacity":0.5,"stroke":"#444","strokeWidth":1.5},"encoding":{"y":{"field":"q1"},"y2":{"field":"q3"},"color":{"field":"g","type":"nominal","scale":{"domain":["NR","CR","PR"],"range":["#0A0F9A","#0D8D19","#A020F0"]},"legend":null}}},
{"mark":{"type":"tick","orient":"horizontal","size":14,"thickness":3,"color":"#111","opacity":1},"encoding":{"y":{"field":"med"}}},
{"data":{"values":[{"x":0.12,"y":238,"g":"NR"},{"x":-0.14,"y":50.6,"g":"NR"},{"x":0.18,"y":49.5,"g":"NR"},{"x":-0.08,"y":47.6,"g":"NR"},{"x":0.18,"y":39,"g":"NR"},{"x":0.05,"y":39,"g":"NR"},{"x":-0.19,"y":30.4,"g":"NR"},{"x":0.03,"y":21.4,"g":"NR"},{"x":-0.13,"y":15.1,"g":"NR"},{"x":0.13,"y":13.2,"g":"NR"},
{"x":0.87,"y":423.2,"g":"CR"},{"x":0.9,"y":287.8,"g":"CR"},{"x":1.08,"y":225.3,"g":"CR"},{"x":0.88,"y":219.7,"g":"CR"},{"x":0.77,"y":191.7,"g":"CR"},{"x":0.94,"y":191.7,"g":"CR"},{"x":1.1,"y":191.7,"g":"CR"},{"x":0.78,"y":177.4,"g":"CR"},{"x":0.79,"y":135.5,"g":"CR"},{"x":0.79,"y":110.1,"g":"CR"},{"x":1.05,"y":101.5,"g":"CR"},{"x":0.83,"y":86.9,"g":"CR"},{"x":0.81,"y":81.3,"g":"CR"},{"x":1.14,"y":74.6,"g":"CR"},{"x":1.03,"y":72.7,"g":"CR"},{"x":0.85,"y":60.3,"g":"CR"},
{"x":2.03,"y":217.8,"g":"PR"},{"x":1.99,"y":164.7,"g":"PR"},{"x":2.03,"y":149.4,"g":"PR"},{"x":2.15,"y":70.8,"g":"PR"},{"x":1.95,"y":60,"g":"PR"},{"x":1.96,"y":37.5,"g":"PR"},{"x":1.86,"y":29.7,"g":"PR"},{"x":1.97,"y":29.7,"g":"PR"},{"x":2.08,"y":28.9,"g":"PR"},{"x":2.21,"y":23.7,"g":"PR"},{"x":1.83,"y":16.9,"g":"PR"},{"x":1.82,"y":10.2,"g":"PR"}]},
"mark":{"type":"circle","size":70,"opacity":0.5},"encoding":{"color":{"field":"g","type":"nominal","scale":{"domain":["NR","CR","PR"],"range":["#0A0F9A","#0D8D19","#A020F0"]},"legend":null}}}
]},
{"width":46,"height":1,"data":{"values":[]},"mark":"point"},
{"width":155,"height":527,
"data":{"values":[{"g":"NR","x":0,"low":8.13,"q1":8.66,"med":9.93,"q3":11.1,"high":14.41},{"g":"CR","x":1,"low":8.6,"q1":10.32,"med":11.22,"q3":12.63,"high":14.41},{"g":"PR","x":2,"low":8.72,"q1":8.72,"med":8.82,"q3":10.22,"high":11.02}]},
"encoding":{"x":{"field":"x","type":"quantitative","scale":{"domain":[-0.594,2.68]},"axis":{"values":[0,1,2],"labelExpr":"['NR','CR','PR'][datum.value]","title":null,"ticks":false,"labelFontSize":20,"labelPadding":19,"labelOffset":5,"domainColor":"#000","domainWidth":2.5}},
"y":{"field":"y","type":"quantitative","scale":{"domain":[7.77,15.6]},"axis":{"values":[8,10,12,14],"title":"Hemoglobin (g/dl)","titleFontSize":14.5,"titleX":-43,"titleY":253,"ticks":false,"labelFontSize":20,"labelPadding":9,"domainColor":"#000","domainWidth":2.5}}},
"layer":[
{"mark":{"type":"rule","stroke":"#555","strokeWidth":2},"encoding":{"y":{"field":"low"},"y2":{"field":"high"}}},
{"mark":{"type":"bar","size":14,"fillOpacity":0.5,"stroke":"#444","strokeWidth":1.5},"encoding":{"y":{"field":"q1"},"y2":{"field":"q3"},"color":{"field":"g","type":"nominal","scale":{"domain":["NR","CR","PR"],"range":["#0A0F9A","#0D8D19","#A020F0"]},"legend":null}}},
{"mark":{"type":"tick","orient":"horizontal","size":14,"thickness":3,"color":"#111","opacity":1},"encoding":{"y":{"field":"med"}}},
{"data":{"values":[{"x":0.08,"y":14.8,"g":"NR"},{"x":-0.12,"y":14.43,"g":"NR"},{"x":-0.02,"y":11.2,"g":"NR"},{"x":-0.1,"y":10.76,"g":"NR"},{"x":-0.07,"y":9.08,"g":"NR"},{"x":-0.19,"y":8.66,"g":"NR"},{"x":0.11,"y":8.66,"g":"NR"},{"x":0,"y":8.54,"g":"NR"},{"x":-0.15,"y":8.13,"g":"NR"},
{"x":1,"y":14.41,"g":"CR"},{"x":1,"y":13.81,"g":"CR"},{"x":0.99,"y":13.46,"g":"CR"},{"x":0.92,"y":12.86,"g":"CR"},{"x":0.96,"y":12.61,"g":"CR"},{"x":0.9,"y":12.29,"g":"CR"},{"x":0.96,"y":12.05,"g":"CR"},{"x":1.13,"y":11.96,"g":"CR"},{"x":1.17,"y":11.2,"g":"CR"},{"x":0.94,"y":11.22,"g":"CR"},{"x":1.08,"y":11.16,"g":"CR"},{"x":1.06,"y":11.08,"g":"CR"},{"x":0.9,"y":10.49,"g":"CR"},{"x":0.94,"y":10.3,"g":"CR"},{"x":1.05,"y":10.12,"g":"CR"},{"x":0.89,"y":9.82,"g":"CR"},{"x":0.98,"y":9.7,"g":"CR"},{"x":1.14,"y":8.59,"g":"CR"},
{"x":2,"y":15.14,"g":"PR"},{"x":1.82,"y":11.03,"g":"PR"},{"x":2.01,"y":10.88,"g":"PR"},{"x":1.96,"y":10.27,"g":"PR"},{"x":1.9,"y":9.81,"g":"PR"},{"x":2.16,"y":9.32,"g":"PR"},{"x":1.82,"y":8.85,"g":"PR"},{"x":1.88,"y":8.83,"g":"PR"},{"x":1.92,"y":8.8,"g":"PR"},{"x":1.84,"y":8.62,"g":"PR"},{"x":2.04,"y":8.68,"g":"PR"},{"x":2.16,"y":8.65,"g":"PR"},{"x":2.11,"y":8.72,"g":"PR"}]},
"mark":{"type":"circle","size":70,"opacity":0.5},"encoding":{"color":{"field":"g","type":"nominal","scale":{"domain":["NR","CR","PR"],"range":["#0A0F9A","#0D8D19","#A020F0"]},"legend":null}}}
]},
{"width":70,"height":1,"data":{"values":[]},"mark":"point"},
{"width":155,"height":527,
"data":{"values":[{"g":"NR","x":0,"low":5,"q1":16.3,"med":73.8,"q3":122.2,"high":182},{"g":"CR","x":1,"low":9.3,"q1":54.5,"med":92.8,"q3":115.2,"high":173.6},{"g":"PR","x":2,"low":15,"q1":48.2,"med":75.3,"q3":136.3,"high":227.6}]},
"encoding":{"x":{"field":"x","type":"quantitative","scale":{"domain":[-0.696,2.72]},"axis":{"values":[0,1,2],"labelExpr":"['NR','CR','PR'][datum.value]","title":null,"ticks":false,"labelFontSize":20,"labelPadding":19,"domainColor":"#000","domainWidth":2.5}},
"y":{"field":"y","type":"quantitative","scale":{"domain":[-9,298.6]},"axis":{"values":[0,100,200],"title":"Reticulocyte count (10^9/l)","titleFontSize":14.5,"titleX":-56,"titleY":299,"ticks":false,"labelFontSize":20,"labelPadding":9,"domainColor":"#000","domainWidth":2.5}}},
"layer":[
{"mark":{"type":"rule","stroke":"#555","strokeWidth":2},"encoding":{"y":{"field":"low"},"y2":{"field":"high"}}},
{"mark":{"type":"bar","size":14,"fillOpacity":0.5,"stroke":"#444","strokeWidth":1.5},"encoding":{"y":{"field":"q1"},"y2":{"field":"q3"},"color":{"field":"g","type":"nominal","scale":{"domain":["NR","CR","PR"],"range":["#0A0F9A","#0D8D19","#A020F0"]},"legend":null}}},
{"mark":{"type":"tick","orient":"horizontal","size":14,"thickness":3,"color":"#111","opacity":1},"encoding":{"y":{"field":"med"}}},
{"data":{"values":[{"x":-0.11,"y":181.9,"g":"NR"},{"x":-0.05,"y":135.8,"g":"NR"},{"x":0,"y":107.4,"g":"NR"},{"x":-0.13,"y":73.3,"g":"NR"},{"x":0.05,"y":22.1,"g":"NR"},{"x":0.03,"y":10.3,"g":"NR"},{"x":-0.06,"y":5.3,"g":"NR"},
{"x":0.84,"y":174.2,"g":"CR"},{"x":0.97,"y":169.6,"g":"CR"},{"x":0.86,"y":160.6,"g":"CR"},{"x":0.9,"y":117.2,"g":"CR"},{"x":0.8,"y":108.2,"g":"CR"},{"x":1.08,"y":106.6,"g":"CR"},{"x":0.8,"y":96.1,"g":"CR"},{"x":0.95,"y":89.1,"g":"CR"},{"x":1.14,"y":83.3,"g":"CR"},{"x":0.86,"y":59.5,"g":"CR"},{"x":1.09,"y":52.2,"g":"CR"},{"x":0.82,"y":43.2,"g":"CR"},{"x":1.13,"y":46.9,"g":"CR"},{"x":1,"y":9.3,"g":"CR"},
{"x":1.92,"y":281.8,"g":"PR"},{"x":2.03,"y":227.6,"g":"PR"},{"x":2.15,"y":144.5,"g":"PR"},{"x":2.13,"y":112.4,"g":"PR"},{"x":1.82,"y":87.8,"g":"PR"},{"x":2.04,"y":62.7,"g":"PR"},{"x":1.94,"y":48.9,"g":"PR"},{"x":2.1,"y":48.7,"g":"PR"},{"x":1.99,"y":41.2,"g":"PR"},{"x":2.05,"y":15.3,"g":"PR"}]},
"mark":{"type":"circle","size":70,"opacity":0.5},"encoding":{"color":{"field":"g","type":"nominal","scale":{"domain":["NR","CR","PR"],"range":["#0A0F9A","#0D8D19","#A020F0"]},"legend":null}}}
]}
],"spacing":0,"bounds":"flush","resolve":{"scale":{"color":"independent","fill":"independent","stroke":"independent"}}},
{"width":1,"height":598,"data":{"values":[]},"mark":"point"},
{"hconcat":[
{"width":59,"height":1,"data":{"values":[]},"mark":"point"},
{"width":825,"height":3,"layer":[
{"data":{"values":[{"part":"left"}]},"mark":{"type":"rect","fill":{"x1":0,"y1":0,"x2":1,"y2":0,"gradient":"linear","stops":[{"offset":0,"color":"#111"},{"offset":0.6,"color":"#333"},{"offset":1,"color":"#fff"}]}},"encoding":{"x":{"datum":0,"type":"quantitative","scale":{"domain":[0,1]},"axis":null},"x2":{"datum":0.232}}},
{"data":{"values":[{"part":"right"}]},"mark":{"type":"rect","fill":{"x1":0,"y1":0,"x2":1,"y2":0,"gradient":"linear","stops":[{"offset":0,"color":"#999"},{"offset":0.3,"color":"#222"},{"offset":1,"color":"#111"}]}},"encoding":{"x":{"datum":0.767,"type":"quantitative","scale":{"domain":[0,1]},"axis":null},"x2":{"datum":1}}},
{"data":{"values":[{"label":"Assessment at 1 month post injection"}]},"mark":{"type":"text","font":"Roboto","fontWeight":"bold","fontSize":25,"color":"#111"},"encoding":{"x":{"datum":0.511,"type":"quantitative","scale":{"domain":[0,1]},"axis":null},"text":{"field":"label"}}}
]}
],"spacing":0,"bounds":"flush","resolve":{"scale":{"color":"independent","fill":"independent","stroke":"independent"}}}
],"spacing":0,"bounds":"flush","resolve":{"scale":{"color":"independent","fill":"independent","stroke":"independent"}}},
{"width":1022,"height":1,"data":{"values":[]},"mark":"point"},
{"vconcat":[
{"width":1,"height":87,"data":{"values":[]},"mark":"point"},
{"hconcat":[
{"width":422,"height":430,"view":{"stroke":"#8c8c8c","strokeWidth":2},"title":{"text":"(E)","dx":-103,"dy":-78},
"data":{"values":[
{"x":0,"g":"CR","y":10.53,"hi":11.43,"lo":9.62},{"x":1,"g":"CR","y":11.02,"hi":11.65,"lo":10.38},{"x":2,"g":"CR","y":11.28,"hi":11.8,"lo":10.75},{"x":3,"g":"CR","y":11.38,"hi":11.95,"lo":10.83},{"x":4,"g":"CR","y":11.35,"hi":11.92,"lo":10.75},{"x":5,"g":"CR","y":11.58,"hi":12.18,"lo":10.9},{"x":6,"g":"CR","y":11.65,"hi":12.25,"lo":11.05},{"x":7,"g":"CR","y":12.1,"hi":12.7,"lo":11.5},{"x":8,"g":"CR","y":12.78,"hi":13.6,"lo":12.03},
{"x":0,"g":"Death","y":9.67,"hi":10.45,"lo":8.95},{"x":1,"g":"Death","y":9.77,"hi":10.37,"lo":8.8},{"x":2,"g":"Death","y":9.74,"hi":10.6,"lo":8.72},{"x":3,"g":"Death","y":9.7,"hi":10.6,"lo":8.72},{"x":4,"g":"Death","y":9.5,"hi":10.07,"lo":8.65},{"x":5,"g":"Death","y":9.92,"hi":11.2,"lo":8.8},{"x":6,"g":"Death","y":10.75,"hi":12.55,"lo":9.25},{"x":7,"g":"Death","y":12.25,"hi":14.88,"lo":9.55},
{"x":0,"g":"NR","y":10.33,"hi":14.77,"lo":5.77},{"x":1,"g":"NR","y":10.1,"hi":12.81,"lo":7.27},{"x":2,"g":"NR","y":9.85,"hi":12.63,"lo":7.07},{"x":3,"g":"NR","y":9.62,"hi":12.25,"lo":6.92},{"x":4,"g":"NR","y":9.47,"hi":12.4,"lo":6.55},{"x":5,"g":"NR","y":9.47,"hi":12.88,"lo":6.25},{"x":6,"g":"NR","y":9,"hi":12.1,"lo":5.87},{"x":7,"g":"NR","y":10.12,"hi":12.7,"lo":8.2},{"x":8,"g":"NR","y":12.52,"hi":15.93,"lo":9.07},
{"x":0,"g":"PR","y":10.87,"hi":12.63,"lo":9.1},{"x":1,"g":"PR","y":10.87,"hi":12.25,"lo":9.52},{"x":2,"g":"PR","y":10.72,"hi":12.18,"lo":9.25},{"x":3,"g":"PR","y":10.56,"hi":12.03,"lo":9.1},{"x":4,"g":"PR","y":10.81,"hi":12.18,"lo":9.4},{"x":5,"g":"PR","y":11.62,"hi":13.03,"lo":10.23},{"x":6,"g":"PR","y":11.58,"hi":12.78,"lo":10.3},{"x":7,"g":"PR","y":11.5,"hi":12.63,"lo":10.23},{"x":8,"g":"PR","y":11.34,"hi":13,"lo":9.7}]},
"encoding":{"x":{"field":"x","type":"quantitative","scale":{"domain":[-0.563,8.576]},"axis":{"values":[0,1,2,3,4,5,6,7,8],"labelExpr":"['D15','M1','M2','M3','M4','M5','M6','M9','M12'][datum.value]","title":null,"grid":true,"gridColor":"#e6e6e6","gridWidth":1.5,"domain":false,"labelFontSize":21,"labelPadding":6,"encoding":{"labels":{"dx":{"value":{"expr":"-2+datum.value*1.2"}}}}}},
"y":{"field":"y","type":"quantitative","scale":{"domain":[0.45,19.83]},"axis":{"values":[5,10,15],"title":"Hb levels (g/dl)","titleFontSize":17,"titleX":-50,"titleY":245,"grid":true,"gridColor":"#ececec","gridWidth":2.5,"domain":false,"labelFontSize":24,"labelPadding":0}}},
"layer":[
{"data":{"values":[{"y":2.5},{"y":7.5},{"y":12.5},{"y":17.5}]},"mark":{"type":"rule","stroke":"#f1f1f1","strokeWidth":2},"encoding":{"x":null}},
{"data":{"values":[{"x":-0.17,"y":18.96,"g":"CR"},{"x":2.07,"y":17.93,"g":"CR"},{"x":3,"y":16.31,"g":"CR"},{"x":3.25,"y":15.36,"g":"CR"},{"x":1.26,"y":14.83,"g":"CR"},{"x":1.95,"y":14.83,"g":"CR"},{"x":4.04,"y":14.77,"g":"CR"},{"x":-0.36,"y":13.93,"g":"CR"},{"x":1.08,"y":14.38,"g":"CR"},{"x":1.21,"y":13.83,"g":"CR"},{"x":0.96,"y":13.41,"g":"CR"},{"x":3.64,"y":13.8,"g":"CR"},{"x":3.82,"y":13.6,"g":"CR"},{"x":3.21,"y":13.33,"g":"CR"},{"x":3.76,"y":13.18,"g":"CR"},{"x":3.79,"y":12.78,"g":"CR"},{"x":5.31,"y":13.68,"g":"CR"},{"x":5.17,"y":13.15,"g":"CR"},{"x":5.71,"y":13,"g":"CR"},{"x":5.96,"y":13.53,"g":"CR"},{"x":6.23,"y":14.08,"g":"CR"},{"x":6.32,"y":13.3,"g":"CR"},{"x":6.74,"y":14,"g":"CR"},{"x":7.04,"y":13.48,"g":"CR"},{"x":7.17,"y":14.68,"g":"CR"},{"x":7.37,"y":14.6,"g":"CR"},{"x":7.2,"y":13.9,"g":"CR"},{"x":8,"y":15.03,"g":"CR"},{"x":8.11,"y":14.6,"g":"CR"},{"x":8.36,"y":14.2,"g":"CR"},{"x":8.31,"y":13.83,"g":"CR"},{"x":8.03,"y":14.2,"g":"CR"},{"x":8.11,"y":12.85,"g":"CR"},{"x":8.16,"y":12.18,"g":"CR"},{"x":-0.25,"y":10.6,"g":"CR"},{"x":-0.28,"y":9.85,"g":"CR"},{"x":-0.3,"y":8.17,"g":"CR"},{"x":-0.17,"y":8.72,"g":"CR"},{"x":0.17,"y":7.67,"g":"CR"},{"x":3.39,"y":12.4,"g":"CR"},{"x":1.27,"y":12.25,"g":"CR"},{"x":1.77,"y":12.1,"g":"CR"},{"x":2.68,"y":12.1,"g":"CR"},{"x":3.18,"y":12.1,"g":"CR"},{"x":6.95,"y":12.9,"g":"CR"},{"x":6.87,"y":9.1,"g":"CR"},{"x":6.82,"y":1.29,"g":"CR"},{"x":7.17,"y":8.68,"g":"CR"},{"x":5.13,"y":8.8,"g":"CR"},{"x":2.09,"y":9.17,"g":"CR"},{"x":2.3,"y":9.1,"g":"CR"},{"x":0.75,"y":8.95,"g":"CR"},{"x":3.69,"y":8.23,"g":"CR"},{"x":3.1,"y":8.2,"g":"CR"},
{"x":0.96,"y":15.14,"g":"PR"},{"x":2.38,"y":14.91,"g":"PR"},{"x":5.23,"y":16.2,"g":"PR"},{"x":-0.2,"y":13.71,"g":"PR"},{"x":2.02,"y":12.82,"g":"PR"},{"x":-0.03,"y":11.23,"g":"PR"},{"x":0.33,"y":11.5,"g":"PR"},{"x":6.01,"y":13.15,"g":"PR"},{"x":8.31,"y":12.6,"g":"PR"},{"x":8.06,"y":7.87,"g":"PR"},{"x":2.86,"y":7.82,"g":"PR"},{"x":4.19,"y":8.12,"g":"PR"},{"x":5.38,"y":8.12,"g":"PR"},{"x":6.29,"y":7.7,"g":"PR"},{"x":6.99,"y":8.62,"g":"PR"},{"x":1.32,"y":8.68,"g":"PR"},{"x":-0.03,"y":8.27,"g":"PR"},{"x":7.78,"y":10.9,"g":"PR"},{"x":0.22,"y":12.1,"g":"PR"},{"x":3.64,"y":12.1,"g":"PR"},{"x":4.14,"y":12.1,"g":"PR"},{"x":5.02,"y":12.93,"g":"PR"},{"x":4.72,"y":10.75,"g":"PR"},{"x":5.3,"y":10.45,"g":"PR"},
{"x":7.73,"y":15.68,"g":"NR"},{"x":0.25,"y":13.53,"g":"NR"},{"x":0.17,"y":12.93,"g":"NR"},{"x":0.33,"y":13,"g":"NR"},{"x":1.03,"y":12.58,"g":"NR"},{"x":1.21,"y":12.1,"g":"NR"},{"x":2.65,"y":12.18,"g":"NR"},{"x":3.23,"y":11.35,"g":"NR"},{"x":4.39,"y":10.75,"g":"NR"},{"x":1.08,"y":9.7,"g":"NR"},{"x":0.38,"y":8.42,"g":"NR"},{"x":0.66,"y":8.62,"g":"NR"},{"x":0.88,"y":8.72,"g":"NR"},{"x":2.15,"y":8.5,"g":"NR"},{"x":1.41,"y":8.08,"g":"NR"},{"x":1.99,"y":7.9,"g":"NR"},{"x":1.74,"y":8.35,"g":"NR"},{"x":3.11,"y":8.95,"g":"NR"},{"x":3.97,"y":8.35,"g":"NR"},{"x":4.64,"y":8.65,"g":"NR"},{"x":5.66,"y":9.92,"g":"NR"},{"x":7.17,"y":7.6,"g":"NR"},{"x":7.78,"y":9.7,"g":"NR"},{"x":6.95,"y":9.55,"g":"NR"},{"x":5.05,"y":9.25,"g":"NR"},{"x":4.06,"y":9.1,"g":"NR"},{"x":2.4,"y":10.6,"g":"NR"},{"x":1.66,"y":9.55,"g":"NR"},
{"x":-0.36,"y":11.35,"g":"Death"},{"x":-0.36,"y":10.98,"g":"Death"},{"x":-0.25,"y":9.25,"g":"Death"},{"x":-0.25,"y":8.8,"g":"Death"},{"x":-0.25,"y":7.42,"g":"Death"},{"x":-0.03,"y":7.18,"g":"Death"},{"x":0.36,"y":14.73,"g":"Death"},{"x":2.32,"y":12.73,"g":"Death"},{"x":5.13,"y":5.05,"g":"Death"},{"x":-0.41,"y":10.3,"g":"Death"},{"x":-0.25,"y":9.7,"g":"Death"}]},
"mark":{"type":"circle","size":85,"opacity":0.33},"encoding":{"color":{"field":"g","type":"nominal","scale":{"domain":["NR","CR","PR","Death"],"range":["#00008B","#008B00","#A020F0","#808080"]},"legend":null}}},
{"transform":[{"filter":"datum.g==='CR'"}],"mark":{"type":"line","strokeWidth":3.5,"stroke":"#006400"}},
{"mark":{"type":"area","opacity":0.4},"encoding":{"y":{"field":"hi"},"y2":{"field":"lo"},"fill":{"field":"g","type":"nominal","scale":{"domain":["NR","CR","PR","Death"],"range":["#00008B","#008B00","#A020F0","#808080"]},"legend":null}}},
{"transform":[{"filter":"datum.g!=='CR'"}],"mark":{"type":"line","strokeWidth":3.5},"encoding":{"stroke":{"field":"g","type":"nominal","scale":{"domain":["NR","CR","PR","Death"],"range":["#00008B","#006400","#9400D3","#808080"]},"legend":null}}}
]},
{"width":115,"height":1,"data":{"values":[]},"mark":"point"},
{"width":407,"height":428,"view":{"stroke":"#8c8c8c","strokeWidth":2},"title":{"text":"At 12 months","fontSize":19,"dx":440,"dy":69},
"data":{"values":[
{"x":0,"g":"CR","y":80.8,"hi":108.2,"lo":53.3},{"x":1,"g":"CR","y":131.5,"hi":152.6,"lo":108.2},{"x":2,"g":"CR","y":155.6,"hi":178,"lo":131.5},{"x":3,"g":"CR","y":156.9,"hi":182.2,"lo":131.5},{"x":4,"g":"CR","y":144.2,"hi":167.4,"lo":118.8},{"x":5,"g":"CR","y":142.9,"hi":163.2,"lo":120.9},{"x":6,"g":"CR","y":146.3,"hi":167.4,"lo":125.2},{"x":7,"g":"CR","y":152.6,"hi":171.7,"lo":131.5},{"x":8,"g":"CR","y":160.3,"hi":192.8,"lo":129.4},
{"x":0,"g":"Death","y":42.7,"hi":61.7,"lo":21.6},{"x":1,"g":"Death","y":33,"hi":59.6,"lo":17.3},{"x":2,"g":"Death","y":34.2,"hi":63.8,"lo":19.5},{"x":3,"g":"Death","y":32.1,"hi":61.7,"lo":17.3},{"x":4,"g":"Death","y":42.7,"hi":66,"lo":17.3},{"x":5,"g":"Death","y":74.4,"hi":108.2,"lo":36.4},{"x":6,"g":"Death","y":137.8,"hi":182.2,"lo":95.6},{"x":7,"g":"Death","y":205.5,"hi":279.5,"lo":133.6},
{"x":0,"g":"NR","y":7.6,"hi":17.3,"lo":-3.8},{"x":1,"g":"NR","y":8.5,"hi":15.2,"lo":-0.8},{"x":2,"g":"NR","y":8.5,"hi":15.2,"lo":-0.8},{"x":3,"g":"NR","y":8.9,"hi":17.3,"lo":0.4},{"x":4,"g":"NR","y":11.8,"hi":21.6,"lo":2.5},{"x":5,"g":"NR","y":14.4,"hi":25.8,"lo":4.7},{"x":6,"g":"NR","y":18.2,"hi":27.9,"lo":7.6},{"x":7,"g":"NR","y":18.2,"hi":27.9,"lo":7.6},{"x":8,"g":"NR","y":8.9,"hi":15.2,"lo":-1.7},
{"x":0,"g":"PR","y":53.3,"hi":131.5,"lo":-20.7},{"x":1,"g":"PR","y":93.4,"hi":148.4,"lo":44.8},{"x":2,"g":"PR","y":123.9,"hi":175.9,"lo":70.2},{"x":3,"g":"PR","y":136.6,"hi":194.9,"lo":76.5},{"x":4,"g":"PR","y":135.7,"hi":197,"lo":74.4},{"x":5,"g":"PR","y":125.2,"hi":186.5,"lo":68.1},{"x":6,"g":"PR","y":118,"hi":167.4,"lo":66},{"x":7,"g":"PR","y":118.8,"hi":171.7,"lo":68.1},{"x":8,"g":"PR","y":127.3,"hi":203.4,"lo":51.2}]},
"encoding":{"x":{"field":"x","type":"quantitative","scale":{"domain":[-0.586,8.603]},"axis":{"values":[0,1,2,3,4,5,6,7,8],"labelExpr":"['D15','M1','M2','M3','M4','M5','M6','M9','M12'][datum.value]","title":null,"grid":true,"gridColor":"#e6e6e6","gridWidth":1.5,"domain":false,"labelFontSize":21,"labelPadding":6,"encoding":{"labels":{"dx":{"value":{"expr":"-10+datum.value*3.25"}}}}}},
"y":{"field":"y","type":"quantitative","scale":{"domain":[-47.4,495]},"axis":{"values":[0,100,200,300,400],"title":"Platelet count (10^9/l)","titleFontSize":17,"titleX":-58,"titleY":211,"grid":true,"gridColor":"#ececec","gridWidth":2.5,"domain":false,"labelFontSize":24,"labelPadding":0}}},
"layer":[
{"data":{"values":[{"y":50},{"y":150},{"y":250},{"y":350},{"y":450}]},"mark":{"type":"rule","stroke":"#f1f1f1","strokeWidth":2},"encoding":{"x":null}},
{"data":{"values":[{"x":2.26,"y":470.6,"g":"CR"},{"x":0.9,"y":422.4,"g":"CR"},{"x":3.03,"y":357.7,"g":"CR"},{"x":1.21,"y":287.1,"g":"CR"},{"x":2.81,"y":295.6,"g":"CR"},{"x":7.22,"y":293,"g":"CR"},{"x":8.29,"y":263.8,"g":"CR"},{"x":1.83,"y":239.3,"g":"CR"},{"x":0.72,"y":236.4,"g":"CR"},{"x":0.6,"y":222.4,"g":"CR"},{"x":1.81,"y":219.5,"g":"CR"},{"x":2.24,"y":221.1,"g":"CR"},{"x":4.22,"y":232.1,"g":"CR"},{"x":3.83,"y":248.6,"g":"CR"},{"x":4.38,"y":211.8,"g":"CR"},{"x":2.66,"y":210.6,"g":"CR"},{"x":2.81,"y":206.8,"g":"CR"},{"x":6.28,"y":280.8,"g":"CR"},{"x":5.91,"y":273.2,"g":"CR"},{"x":6.81,"y":252.9,"g":"CR"},{"x":7.05,"y":240.2,"g":"CR"},{"x":6.71,"y":219,"g":"CR"},{"x":7.72,"y":230.9,"g":"CR"},{"x":7.9,"y":232.1,"g":"CR"},{"x":8.09,"y":238,"g":"CR"},{"x":7.62,"y":199.2,"g":"CR"},{"x":8.19,"y":182.2,"g":"CR"},{"x":8.26,"y":178,"g":"CR"},{"x":8.34,"y":124.3,"g":"CR"},{"x":8.19,"y":109.1,"g":"CR"},{"x":8.22,"y":73.6,"g":"CR"},{"x":8,"y":91.3,"g":"CR"},{"x":0.09,"y":194.9,"g":"CR"},{"x":0.29,"y":184.4,"g":"CR"},{"x":0.24,"y":165.3,"g":"CR"},{"x":0.72,"y":190.3,"g":"CR"},{"x":0.86,"y":190.7,"g":"CR"},{"x":1.36,"y":191.5,"g":"CR"},{"x":0.64,"y":147.1,"g":"CR"},{"x":1.03,"y":175.9,"g":"CR"},{"x":-0.36,"y":143.3,"g":"CR"},{"x":-0.31,"y":131.5,"g":"CR"},{"x":2.28,"y":193.7,"g":"CR"},{"x":5,"y":187.7,"g":"CR"},{"x":5.21,"y":182.2,"g":"CR"},{"x":5.6,"y":183.5,"g":"CR"},{"x":5.95,"y":194.9,"g":"CR"},{"x":6.1,"y":182.2,"g":"CR"},{"x":4.98,"y":222.4,"g":"CR"},{"x":4,"y":104,"g":"CR"},{"x":6.33,"y":46.9,"g":"CR"},{"x":7.28,"y":55.4,"g":"CR"},{"x":7.79,"y":53.3,"g":"CR"},{"x":6.67,"y":27.9,"g":"CR"},{"x":8.31,"y":8.9,"g":"CR"},{"x":2.19,"y":68.1,"g":"CR"},{"x":1.07,"y":27.9,"g":"CR"},{"x":1.76,"y":23.7,"g":"CR"},{"x":4.38,"y":27.9,"g":"CR"},{"x":-0.34,"y":80.8,"g":"CR"},{"x":-0.28,"y":44.8,"g":"CR"},{"x":-0.4,"y":6.8,"g":"CR"},{"x":-0.14,"y":32.1,"g":"CR"},{"x":3.83,"y":61.7,"g":"CR"},{"x":5.33,"y":63.8,"g":"CR"},{"x":1.67,"y":133.6,"g":"CR"},{"x":2.76,"y":101.9,"g":"CR"},{"x":2.97,"y":82.9,"g":"CR"},{"x":2.79,"y":120.9,"g":"CR"},{"x":3.83,"y":154.8,"g":"CR"},{"x":4.86,"y":108.2,"g":"CR"},{"x":5.72,"y":95.6,"g":"CR"},{"x":6.24,"y":91.3,"g":"CR"},{"x":6.33,"y":76.5,"g":"CR"},{"x":7.14,"y":76.5,"g":"CR"},{"x":7.1,"y":125.2,"g":"CR"},
{"x":2.1,"y":304.9,"g":"PR"},{"x":3.34,"y":293,"g":"PR"},{"x":5.16,"y":283.7,"g":"PR"},{"x":6.19,"y":285,"g":"PR"},{"x":4.34,"y":261.7,"g":"PR"},{"x":3.6,"y":251.2,"g":"PR"},{"x":7.07,"y":226.6,"g":"PR"},{"x":0.97,"y":216.1,"g":"PR"},{"x":0.76,"y":163.2,"g":"PR"},{"x":2.19,"y":163.2,"g":"PR"},{"x":2.74,"y":171.7,"g":"PR"},{"x":3.97,"y":186.5,"g":"PR"},{"x":4.86,"y":180.1,"g":"PR"},{"x":6.28,"y":197,"g":"PR"},{"x":7.88,"y":201.3,"g":"PR"},{"x":6.84,"y":99.8,"g":"PR"},{"x":4.95,"y":99.8,"g":"PR"},{"x":2.19,"y":95.6,"g":"PR"},{"x":4.14,"y":91.3,"g":"PR"},{"x":0.98,"y":70.2,"g":"PR"},{"x":3.22,"y":55.4,"g":"PR"},{"x":7.19,"y":55.4,"g":"PR"},{"x":8.12,"y":27.9,"g":"PR"},{"x":-0.17,"y":59.6,"g":"PR"},{"x":-0.4,"y":21.6,"g":"PR"},{"x":-0.17,"y":25.8,"g":"PR"},{"x":7.88,"y":118.8,"g":"PR"},{"x":5.98,"y":104,"g":"PR"},{"x":3.83,"y":159,"g":"PR"},{"x":5.03,"y":150.5,"g":"PR"},
{"x":-0.1,"y":82.9,"g":"NR"},{"x":8.09,"y":13.1,"g":"NR"},{"x":8.1,"y":6.8,"g":"NR"},{"x":-0.14,"y":6.8,"g":"NR"},{"x":4,"y":4.7,"g":"NR"},{"x":3.22,"y":4.7,"g":"NR"},{"x":5.29,"y":8.9,"g":"NR"},{"x":3.14,"y":6.8,"g":"NR"},{"x":4.17,"y":11,"g":"NR"},{"x":1.41,"y":13.1,"g":"NR"},{"x":6.93,"y":13.1,"g":"NR"},{"x":5.64,"y":21.6,"g":"NR"},{"x":6.38,"y":19.5,"g":"NR"},
{"x":-0.12,"y":242.7,"g":"Death"},{"x":6.21,"y":256.2,"g":"Death"},{"x":-0.4,"y":34.2,"g":"Death"},{"x":1.24,"y":38.5,"g":"Death"},{"x":1.88,"y":63.8,"g":"Death"},{"x":2.79,"y":38.5,"g":"Death"},{"x":3.22,"y":44.8,"g":"Death"},{"x":4.86,"y":32.1,"g":"Death"},{"x":6.19,"y":8,"g":"Death"},{"x":6.76,"y":66,"g":"Death"},{"x":0.72,"y":49,"g":"Death"},{"x":2.19,"y":40.6,"g":"Death"}]},
"mark":{"type":"circle","size":85,"opacity":0.33},"encoding":{"color":{"field":"g","type":"nominal","scale":{"domain":["Death","PR","CR","NR"],"range":["#808080","#A020F0","#008B00","#00008B"]},"legend":null}}},
{"transform":[{"filter":"datum.g==='CR'"}],"mark":{"type":"line","strokeWidth":3.5,"stroke":"#006400"}},
{"mark":{"type":"area","opacity":0.4},"encoding":{"y":{"field":"hi"},"y2":{"field":"lo"},"fill":{"field":"g","type":"nominal","scale":{"domain":["NR","CR","PR","Death"],"range":["#00008B","#008B00","#A020F0","#808080"]},"legend":{"title":null,"orient":"none","legendX":464,"legendY":71,"symbolType":"square","symbolSize":576,"symbolOpacity":0.4,"symbolStrokeWidth":0,"labelFont":"Roboto","labelFontSize":19,"labelColor":"#222","rowPadding":1,"clipHeight":24,"labelOffset":3}}}},
{"transform":[{"filter":"datum.g!=='CR'"}],"mark":{"type":"line","strokeWidth":3.5},"encoding":{"stroke":{"field":"g","type":"nominal","scale":{"domain":["CR","NR","PR","Death"],"range":["#006400","#00008B","#9400D3","#808080"]},"legend":{"title":null,"orient":"none","legendX":464,"legendY":71,"values":["NR","CR","PR","Death"],"symbolType":"stroke","symbolSize":576,"symbolStrokeWidth":3,"labelExpr":"''","labelFontSize":19,"rowPadding":1,"clipHeight":24,"labelOffset":3}}}}
]}
],"spacing":0,"bounds":"flush","resolve":{"scale":{"color":"independent","fill":"independent","stroke":"independent"}}},
{"width":1,"height":603,"data":{"values":[]},"mark":"point"},
{"hconcat":[
{"width":3,"height":1,"data":{"values":[]},"mark":"point"},
{"width":419,"height":434,"view":{"stroke":"#8c8c8c","strokeWidth":2},
"data":{"values":[
{"x":0,"g":"Death","y":2.1,"hi":4,"lo":0.4},{"x":1,"g":"Death","y":3.3,"hi":6.4,"lo":0.7},{"x":2,"g":"Death","y":4.7,"hi":7.7,"lo":1.3},{"x":3,"g":"Death","y":2.86,"hi":4.8,"lo":1.3},{"x":4,"g":"Death","y":2.42,"hi":5.3,"lo":0.4},{"x":5,"g":"Death","y":3.74,"hi":6.4,"lo":1.3},{"x":6,"g":"Death","y":6.37,"hi":11,"lo":2.9},{"x":7,"g":"Death","y":9,"hi":16.5,"lo":2.6},
{"x":0,"g":"NR","y":6.73,"hi":30.3,"lo":-17},{"x":1,"g":"NR","y":4.62,"hi":18.9,"lo":-10},{"x":2,"g":"NR","y":3.96,"hi":17.7,"lo":-10.9},{"x":3,"g":"NR","y":3.3,"hi":17.6,"lo":-10.8},{"x":4,"g":"NR","y":5.93,"hi":21.2,"lo":-9.2},{"x":5,"g":"NR","y":14.95,"hi":31.9,"lo":-2.2},{"x":6,"g":"NR","y":12.31,"hi":28.9,"lo":-4.3},{"x":7,"g":"NR","y":11.78,"hi":25.3,"lo":-1.7},{"x":8,"g":"NR","y":15.47,"hi":33.5,"lo":-2.6},
{"x":0,"g":"PR","y":1.45,"hi":2.35,"lo":0.55},{"x":1,"g":"PR","y":1.76,"hi":2.66,"lo":0.86},{"x":2,"g":"PR","y":2.07,"hi":2.97,"lo":1.17},{"x":3,"g":"PR","y":2.42,"hi":3.32,"lo":1.52},{"x":4,"g":"PR","y":2.29,"hi":3.19,"lo":1.39},{"x":5,"g":"PR","y":1.98,"hi":2.88,"lo":1.08},{"x":6,"g":"PR","y":1.54,"hi":2.44,"lo":0.64},{"x":7,"g":"PR","y":1.54,"hi":2.44,"lo":0.64},{"x":8,"g":"PR","y":1.67,"hi":2.57,"lo":0.77},
{"x":0,"g":"CR","y":2.2,"hi":3,"lo":1.4},{"x":1,"g":"CR","y":2.6,"hi":3.4,"lo":1.8},{"x":2,"g":"CR","y":3.3,"hi":4.1,"lo":2.5},{"x":3,"g":"CR","y":3.3,"hi":4.1,"lo":2.5},{"x":4,"g":"CR","y":2.9,"hi":3.7,"lo":2.1},{"x":5,"g":"CR","y":2.6,"hi":3.4,"lo":1.8},{"x":6,"g":"CR","y":2.9,"hi":3.7,"lo":2.1},{"x":7,"g":"CR","y":3.3,"hi":4.1,"lo":2.5},{"x":8,"g":"CR","y":3.6,"hi":4.4,"lo":2.8}]},
"encoding":{"x":{"field":"x","type":"quantitative","scale":{"domain":[-0.586,8.586]},"axis":{"values":[0,1,2,3,4,5,6,7,8],"labelExpr":"['D15','M1','M2','M3','M4','M5','M6','M9','M12'][datum.value]","title":null,"grid":true,"gridColor":"#e6e6e6","gridWidth":1.5,"domain":false,"labelFontSize":21,"labelPadding":22,"encoding":{"labels":{"dx":{"value":{"expr":"-23+datum.value*1.1"}}}}}},
"y":{"field":"y","type":"quantitative","scale":{"domain":[-19.6,37.67]},"axis":{"values":[-10,0,10,20,30],"title":"Neutrophil count (10^9/l)","titleFontSize":17,"titleX":-42,"titleY":210,"grid":true,"gridColor":"#ececec","gridWidth":2.5,"domain":false,"labelFontSize":24,"labelPadding":0}}},
"layer":[
{"data":{"values":[{"y":-15},{"y":-5},{"y":5},{"y":15},{"y":25},{"y":35}]},"mark":{"type":"rule","stroke":"#f1f1f1","strokeWidth":2},"encoding":{"x":null}},
{"data":{"values":[{"x":8.17,"y":35.1,"g":"NR"},{"x":6.29,"y":18.3,"g":"NR"},{"x":4.95,"y":16.4,"g":"NR"},{"x":0.87,"y":9.2,"g":"NR"},{"x":1.19,"y":11.1,"g":"NR"},{"x":1.66,"y":10.9,"g":"NR"},{"x":3.15,"y":11.1,"g":"NR"},{"x":3.98,"y":9.6,"g":"NR"},{"x":1.21,"y":8.1,"g":"NR"},{"x":0.75,"y":6.5,"g":"NR"},{"x":0.89,"y":7.5,"g":"NR"},{"x":3.1,"y":6.2,"g":"NR"},{"x":5.86,"y":9.2,"g":"NR"},{"x":7.11,"y":5.9,"g":"NR"},{"x":6.61,"y":9.2,"g":"NR"},{"x":2.18,"y":0.9,"g":"NR"},{"x":2.18,"y":0.4,"g":"NR"},{"x":6.78,"y":0.7,"g":"NR"},{"x":5.86,"y":0.9,"g":"NR"},{"x":1.34,"y":0.4,"g":"NR"},{"x":8.28,"y":0.4,"g":"NR"},{"x":1,"y":0.4,"g":"NR"},{"x":0,"y":4,"g":"NR"},{"x":7.11,"y":2.6,"g":"NR"},{"x":7.45,"y":4.6,"g":"NR"},{"x":7.7,"y":4.2,"g":"NR"},
{"x":8.2,"y":13.9,"g":"CR"},{"x":5.1,"y":12.4,"g":"CR"},{"x":6.23,"y":10.5,"g":"CR"},{"x":-0.25,"y":4.9,"g":"CR"},{"x":-0.2,"y":5.4,"g":"CR"},{"x":8.2,"y":6.2,"g":"CR"},{"x":8.17,"y":4.6,"g":"CR"},{"x":8.28,"y":3.7,"g":"CR"},{"x":8.33,"y":4.9,"g":"CR"},{"x":8.23,"y":2.2,"g":"CR"},{"x":-0.33,"y":1.8,"g":"CR"},{"x":-0.17,"y":0.9,"g":"CR"},{"x":-0.2,"y":0,"g":"CR"},{"x":2.68,"y":4,"g":"CR"},{"x":3.21,"y":2.6,"g":"CR"},{"x":4.18,"y":2.4,"g":"CR"},{"x":3.68,"y":3.5,"g":"CR"},{"x":4.69,"y":1.8,"g":"CR"},{"x":5.61,"y":2.6,"g":"CR"},{"x":6.86,"y":3.1,"g":"CR"},{"x":7.36,"y":4,"g":"CR"},{"x":7.78,"y":4,"g":"CR"},{"x":0.75,"y":4,"g":"CR"},{"x":1.76,"y":1.8,"g":"CR"},
{"x":-0.17,"y":3.1,"g":"PR"},{"x":1.34,"y":4.8,"g":"PR"},{"x":4.18,"y":5.1,"g":"PR"},{"x":6.63,"y":9,"g":"PR"},{"x":3.98,"y":4.6,"g":"PR"},{"x":0.92,"y":0.4,"g":"PR"},{"x":1.37,"y":0.35,"g":"PR"},{"x":2.34,"y":0.2,"g":"PR"},{"x":3.18,"y":0.2,"g":"PR"},{"x":2.76,"y":0.9,"g":"PR"},{"x":8.28,"y":1.1,"g":"PR"},{"x":7.7,"y":1.3,"g":"PR"},{"x":4.94,"y":1.3,"g":"PR"},{"x":6.78,"y":0.9,"g":"PR"},
{"x":-0.37,"y":10.8,"g":"Death"},{"x":2.04,"y":27.1,"g":"Death"},{"x":-0.05,"y":7.4,"g":"Death"},{"x":0.22,"y":4.5,"g":"Death"},{"x":1.71,"y":6.6,"g":"Death"},{"x":5.09,"y":5.3,"g":"Death"},{"x":1.76,"y":0,"g":"Death"},{"x":0.75,"y":0,"g":"Death"},{"x":3.6,"y":0,"g":"Death"},{"x":-0.33,"y":2.6,"g":"Death"},{"x":-0.33,"y":0.4,"g":"Death"}]},
"mark":{"type":"circle","size":85,"opacity":0.33},"encoding":{"color":{"field":"g","type":"nominal","scale":{"domain":["NR","CR","PR","Death"],"range":["#00008B","#008B00","#A020F0","#808080"]},"legend":null}}},
{"mark":{"type":"area","opacity":0.4},"encoding":{"y":{"field":"hi"},"y2":{"field":"lo"},"fill":{"field":"g","type":"nominal","scale":{"domain":["NR","CR","PR","Death"],"range":["#00008B","#008B00","#A020F0","#808080"]},"legend":null}}},
{"mark":{"type":"line","strokeWidth":3.5},"encoding":{"stroke":{"field":"g","type":"nominal","scale":{"domain":["NR","CR","PR","Death"],"range":["#00008B","#1E8B22","#9400D3","#808080"]},"legend":null}}}
]},
{"width":111,"height":1,"data":{"values":[]},"mark":"point"},
{"width":406,"height":431,"view":{"stroke":"#8c8c8c","strokeWidth":2},
"data":{"values":[
{"x":0,"g":"CR","y":81.6,"hi":104.7,"lo":58.9},{"x":1,"g":"CR","y":81.6,"hi":100,"lo":60.3},{"x":2,"g":"CR","y":76.7,"hi":93.2,"lo":54.8},{"x":3,"g":"CR","y":63.6,"hi":90.4,"lo":43.8},{"x":4,"g":"CR","y":65.8,"hi":87.7,"lo":43.8},{"x":5,"g":"CR","y":72.6,"hi":87.7,"lo":50.7},{"x":6,"g":"CR","y":72.6,"hi":87.7,"lo":52.1},{"x":7,"g":"CR","y":69,"hi":79.5,"lo":50.7},{"x":8,"g":"CR","y":60.8,"hi":85.8,"lo":37},
{"x":0,"g":"Death","y":49.3,"hi":72.6,"lo":23.3},{"x":1,"g":"Death","y":70.4,"hi":91.8,"lo":32.9},{"x":2,"g":"Death","y":52,"hi":72.6,"lo":17.8},{"x":3,"g":"Death","y":52.9,"hi":72.6,"lo":15.1},{"x":4,"g":"Death","y":74,"hi":83.6,"lo":20.5},{"x":5,"g":"Death","y":95.9,"hi":126,"lo":65.8},{"x":6,"g":"Death","y":123.3,"hi":167,"lo":79.5},{"x":7,"g":"Death","y":167.1,"hi":249.3,"lo":123.3},
{"x":0,"g":"NR","y":188.2,"hi":316.4,"lo":65.8},{"x":1,"g":"NR","y":141.1,"hi":220.5,"lo":60.3},{"x":2,"g":"NR","y":107.4,"hi":185,"lo":32.9},{"x":3,"g":"NR","y":84.9,"hi":162.5,"lo":9.6},{"x":4,"g":"NR","y":87.1,"hi":169.9,"lo":4.1},{"x":5,"g":"NR","y":143,"hi":235.6,"lo":50.7},{"x":6,"g":"NR","y":149.3,"hi":239.7,"lo":57.5},{"x":7,"g":"NR","y":132.9,"hi":205.5,"lo":57.5},{"x":8,"g":"NR","y":108.8,"hi":207.1,"lo":11},
{"x":0,"g":"PR","y":131.5,"hi":186.3,"lo":76.7},{"x":1,"g":"PR","y":101.4,"hi":134.2,"lo":68.5},{"x":2,"g":"PR","y":75.3,"hi":106.8,"lo":43.8},{"x":3,"g":"PR","y":56.2,"hi":86.3,"lo":20.5},{"x":4,"g":"PR","y":58.9,"hi":94.5,"lo":24.7},{"x":5,"g":"PR","y":62.5,"hi":98.6,"lo":27.4},{"x":6,"g":"PR","y":60.3,"hi":86.3,"lo":27.4},{"x":7,"g":"PR","y":52.1,"hi":82.2,"lo":23.3},{"x":8,"g":"PR","y":37.8,"hi":65.8,"lo":-4.1}]},
"encoding":{"x":{"field":"x","type":"quantitative","scale":{"domain":[-0.586,8.586]},"axis":{"values":[0,1,2,3,4,5,6,7,8],"labelExpr":"['D15','M1','M2','M3','M4','M5','M6','M9','M12'][datum.value]","title":null,"grid":true,"gridColor":"#e6e6e6","gridWidth":1.5,"domain":false,"labelFontSize":21,"labelPadding":26,"encoding":{"labels":{"dx":{"value":{"expr":"-19+datum.value*2"}}}}}},
"y":{"field":"y","type":"quantitative","scale":{"domain":[-20.5,333.4]},"axis":{"values":[0,100,200,300],"title":"Reticulocyte count (10^9/l)","titleFontSize":17,"titleX":-58,"titleY":208,"grid":true,"gridColor":"#ececec","gridWidth":2.5,"domain":false,"labelFontSize":24,"labelPadding":0}}},
"layer":[
{"data":{"values":[{"y":50},{"y":150},{"y":250}]},"mark":{"type":"rule","stroke":"#f1f1f1","strokeWidth":2},"encoding":{"x":null}},
{"data":{"values":[{"x":-0.33,"y":234.2,"g":"CR"},{"x":2.21,"y":246,"g":"CR"},{"x":3.34,"y":232.9,"g":"CR"},{"x":1.69,"y":203.3,"g":"CR"},{"x":-0.12,"y":132,"g":"CR"},{"x":-0.28,"y":91,"g":"CR"},{"x":-0.19,"y":76.7,"g":"CR"},{"x":-0.24,"y":64.4,"g":"CR"},{"x":-0.28,"y":55.3,"g":"CR"},{"x":-0.03,"y":48.8,"g":"CR"},{"x":8.1,"y":101.9,"g":"CR"},{"x":8.24,"y":69.9,"g":"CR"},{"x":8.22,"y":53.4,"g":"CR"},{"x":8,"y":52.1,"g":"CR"},{"x":-0.38,"y":27.4,"g":"CR"},{"x":-0.24,"y":6.8,"g":"CR"},{"x":0.1,"y":1.4,"g":"CR"},{"x":0.31,"y":16.4,"g":"CR"},{"x":0.66,"y":8.2,"g":"CR"},{"x":0.91,"y":6.8,"g":"CR"},{"x":1.33,"y":20.5,"g":"CR"},{"x":2,"y":16.4,"g":"CR"},{"x":2.29,"y":15.1,"g":"CR"},{"x":0.91,"y":46.6,"g":"CR"},{"x":0.66,"y":41.1,"g":"CR"},{"x":4.62,"y":183.6,"g":"CR"},{"x":4.88,"y":168.5,"g":"CR"},{"x":4.88,"y":31.5,"g":"CR"},{"x":3.67,"y":8.2,"g":"CR"},{"x":3.24,"y":16.4,"g":"CR"},{"x":5.22,"y":32.9,"g":"CR"},{"x":4.88,"y":109.6,"g":"CR"},{"x":5.66,"y":124.7,"g":"CR"},{"x":6.34,"y":93.7,"g":"CR"},{"x":7.03,"y":91.8,"g":"CR"},{"x":1.09,"y":172.6,"g":"CR"},{"x":1.31,"y":172.6,"g":"CR"},{"x":0.17,"y":195.9,"g":"CR"},{"x":0.79,"y":227.4,"g":"CR"},{"x":1.03,"y":169.9,"g":"CR"},{"x":1.05,"y":160.3,"g":"CR"},{"x":2.21,"y":45.2,"g":"CR"},
{"x":1.08,"y":281.4,"g":"PR"},{"x":0.22,"y":211.5,"g":"PR"},{"x":0.17,"y":167.1,"g":"PR"},{"x":5.6,"y":150.7,"g":"PR"},{"x":0.66,"y":106.8,"g":"PR"},{"x":0.31,"y":144.4,"g":"PR"},{"x":7.98,"y":82.2,"g":"PR"},{"x":1.31,"y":39.7,"g":"PR"},{"x":5.05,"y":43.8,"g":"PR"},{"x":5.91,"y":47.1,"g":"PR"},{"x":6.09,"y":39.7,"g":"PR"},{"x":6.69,"y":42.5,"g":"PR"},{"x":7.17,"y":28.8,"g":"PR"},{"x":7.38,"y":43.8,"g":"PR"},{"x":7.9,"y":32.9,"g":"PR"},{"x":7.95,"y":23.3,"g":"PR"},{"x":1.86,"y":101.4,"g":"PR"},{"x":0.66,"y":60.3,"g":"PR"},
{"x":0.79,"y":226.8,"g":"NR"},{"x":0.17,"y":195.9,"g":"NR"},{"x":0.83,"y":180.8,"g":"NR"},{"x":1.05,"y":169.3,"g":"NR"},{"x":2.21,"y":110.1,"g":"NR"},{"x":3.69,"y":112.3,"g":"NR"},{"x":4.88,"y":168.5,"g":"NR"},{"x":4.84,"y":145.2,"g":"NR"},{"x":5.97,"y":191,"g":"NR"},{"x":7.66,"y":194,"g":"NR"},{"x":7.17,"y":150.1,"g":"NR"},{"x":7.9,"y":132.9,"g":"NR"},{"x":8.24,"y":47.1,"g":"NR"},{"x":7.07,"y":89,"g":"NR"},{"x":7.14,"y":99.2,"g":"NR"},{"x":3.07,"y":97.3,"g":"NR"},{"x":3.21,"y":16.4,"g":"NR"},{"x":3.67,"y":8.8,"g":"NR"},{"x":2.86,"y":134.2,"g":"NR"},{"x":4.28,"y":41.1,"g":"NR"},{"x":1.95,"y":39.7,"g":"NR"},
{"x":-0.21,"y":147.9,"g":"Death"},{"x":-0.34,"y":28.8,"g":"Death"},{"x":-0.34,"y":5.5,"g":"Death"},{"x":-0.21,"y":30.1,"g":"Death"},{"x":-0.12,"y":72.6,"g":"Death"},{"x":1.69,"y":0,"g":"Death"},{"x":2,"y":5.5,"g":"Death"},{"x":1.38,"y":13.7,"g":"Death"},{"x":1,"y":2.7,"g":"Death"},{"x":2.98,"y":6.8,"g":"Death"},{"x":3.84,"y":116.4,"g":"Death"},{"x":6.38,"y":123.3,"g":"Death"},{"x":6.74,"y":164.4,"g":"Death"},{"x":5.22,"y":120.5,"g":"Death"},{"x":0.22,"y":12.3,"g":"Death"},{"x":5.66,"y":126,"g":"Death"}]},
"mark":{"type":"circle","size":85,"opacity":0.33},"encoding":{"color":{"field":"g","type":"nominal","scale":{"domain":["NR","CR","PR","Death"],"range":["#00008B","#008B00","#A020F0","#808080"]},"legend":null}}},
{"transform":[{"filter":"datum.g==='CR'"}],"mark":{"type":"line","strokeWidth":3.5,"stroke":"#006400"}},
{"mark":{"type":"area","opacity":0.4},"encoding":{"y":{"field":"hi"},"y2":{"field":"lo"},"fill":{"field":"g","type":"nominal","scale":{"domain":["NR","CR","PR","Death"],"range":["#00008B","#008B00","#A020F0","#808080"]},"legend":null}}},
{"transform":[{"filter":"datum.g!=='CR'"}],"mark":{"type":"line","strokeWidth":3.5},"encoding":{"stroke":{"field":"g","type":"nominal","scale":{"domain":["NR","CR","PR","Death"],"range":["#00008B","#006400","#9400D3","#808080"]},"legend":null}}}
]}
],"spacing":0,"bounds":"flush","resolve":{"scale":{"color":"independent","fill":"independent","stroke":"independent"}}}
],"spacing":0,"bounds":"flush","resolve":{"scale":{"color":"independent","fill":"independent","stroke":"independent"}}}
],"spacing":0,"bounds":"flush","resolve":{"scale":{"color":"independent","fill":"independent","stroke":"independent"}}}
],"spacing":0,"bounds":"flush"}
